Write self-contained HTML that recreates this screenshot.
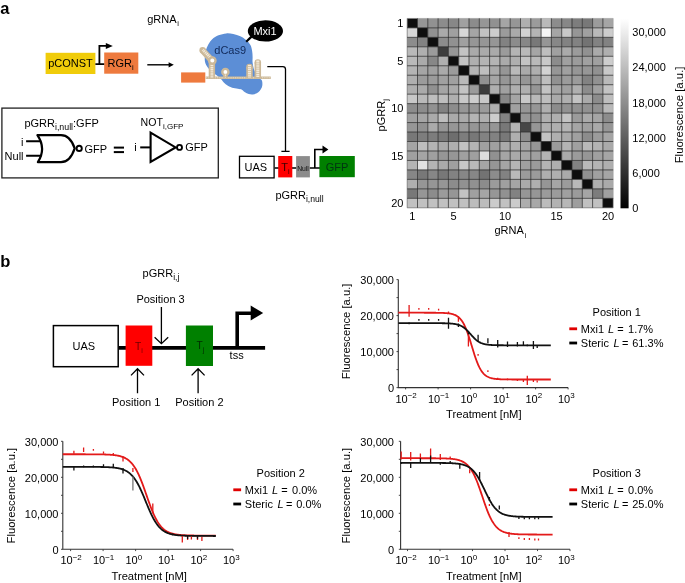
<!DOCTYPE html>
<html><head><meta charset="utf-8"><style>
html,body{margin:0;padding:0;background:#fff;}
svg{display:block;will-change:transform;}
text{font-family:"Liberation Sans", sans-serif;}
</style></head><body>
<svg width="685" height="583" viewBox="0 0 685 583" font-family='"Liberation Sans", sans-serif'>
<rect width="685" height="583" fill="#fff"/>
<text x="0.3" y="13.6" font-size="16.5" text-anchor="start" fill="#000" font-weight="bold" >a</text>
<text x="147.2" y="22.9" font-size="11" text-anchor="start" fill="#000" font-weight="normal" >gRNA<tspan font-size="7.5" dy="3.3" dx="0.6">i</tspan></text>
<rect x="45.6" y="52.8" width="49.8" height="21.2" fill="#f0cc0a"/>
<text x="48.2" y="67.4" font-size="11" text-anchor="start" fill="#000" font-weight="normal" >pCONST</text>
<rect x="104.2" y="52.5" width="34.1" height="21.2" fill="#ee7a3e"/>
<text x="107.6" y="67.4" font-size="11" text-anchor="start" fill="#000" font-weight="normal" >RGR<tspan font-size="7.5" dy="3">i</tspan></text>
<path d="M95.4,64.1 H104.2 M99.4,64.8 V45.9 H106.5" fill="none" stroke="#000" stroke-width="1.8"/>
<polygon points="105.8,43.0 112.8,46.0 105.8,49.0" fill="#000"/>
<path d="M147.3,64.8 H169.5" stroke="#000" stroke-width="1.4"/>
<polygon points="168.6,62.2 173.8,64.8 168.6,67.6" fill="#000"/>
<rect x="181.1" y="72.4" width="24.2" height="10.2" fill="#ee7a3e"/>
<path d="M226.30,33.40 C228.77,33.20 230.97,33.62 233.30,34.10 C235.63,34.58 238.12,35.27 240.30,36.30 C242.48,37.33 244.72,38.83 246.40,40.30 C248.08,41.77 249.45,43.35 250.40,45.10 C251.35,46.85 251.73,48.83 252.10,50.80 C252.47,52.77 252.52,54.95 252.60,56.90 C252.68,58.85 252.33,60.32 252.60,62.50 C252.87,64.68 253.38,67.67 254.20,70.00 C255.02,72.33 256.27,74.82 257.50,76.50 C258.73,78.18 260.78,78.85 261.60,80.10 C262.42,81.35 262.37,82.77 262.40,84.00 C262.43,85.23 262.27,86.33 261.80,87.50 C261.33,88.67 260.43,90.03 259.60,91.00 C258.77,91.97 257.93,92.72 256.80,93.30 C255.67,93.88 254.15,94.37 252.80,94.50 C251.45,94.63 250.00,94.47 248.70,94.10 C247.40,93.73 246.07,93.00 245.00,92.30 C243.93,91.60 243.28,90.45 242.30,89.90 C241.32,89.35 240.57,89.30 239.10,89.00 C237.63,88.70 235.37,88.65 233.50,88.10 C231.63,87.55 229.52,86.63 227.90,85.70 C226.28,84.77 225.03,83.70 223.80,82.50 C222.57,81.30 221.88,79.83 220.50,78.50 C219.12,77.17 217.42,76.08 215.50,74.50 C213.58,72.92 210.70,70.92 209.00,69.00 C207.30,67.08 206.00,65.02 205.30,63.00 C204.60,60.98 204.72,58.98 204.80,56.90 C204.88,54.82 205.22,52.57 205.80,50.50 C206.38,48.43 207.23,46.38 208.30,44.50 C209.37,42.62 210.50,40.73 212.20,39.20 C213.90,37.67 216.15,36.27 218.50,35.30 C220.85,34.33 223.83,33.60 226.30,33.40 Z" fill="#5c8ed6"/>
<text x="214.3" y="53.5" font-size="11" text-anchor="start" fill="#112a5a" font-weight="normal" >dCas9</text>
<path d="M246.2,41.8 L251.5,36.6" stroke="#000" stroke-width="2.2"/>
<ellipse cx="265.4" cy="30.9" rx="17.6" ry="10.6" fill="#000"/>
<text x="265.0" y="34.7" font-size="11" text-anchor="middle" fill="#fff" font-weight="normal" >Mxi1</text>
<path d="M205.6,77.8 H270.8" stroke="#ccb999" stroke-width="2.5"/>
<path d="M206.2,77.8 H270.3" stroke="#f3ebdc" stroke-width="0.8" stroke-dasharray="0.9 0.9"/>
<path d="M211.9,78.5 V60.6 L202.6,50.3" fill="none" stroke="#ccb999" stroke-width="6.4" stroke-linejoin="round"/>
<circle cx="202.6" cy="50.3" r="3.2" fill="#ccb999"/>
<path d="M211.9,77.5 V61.5 M211.4,58.5 L202.8,49.8" fill="none" stroke="#f3ebdc" stroke-width="2.8" stroke-dasharray="1.3 0.6"/>
<circle cx="212.3" cy="60.6" r="3.2" fill="#fff" stroke="#ccb999" stroke-width="2.4"/>
<path d="M225.4,78.5 V72.4" stroke="#ccb999" stroke-width="4.4"/>
<circle cx="225.4" cy="72.0" r="3.1" fill="#fff" stroke="#ccb999" stroke-width="2.4"/>
<path d="M225.4,73.5 V77.5" stroke="#f3ebdc" stroke-width="1.2" stroke-dasharray="0.9 0.9"/>
<path d="M249.5,78.5 V66.9 M257.8,78.5 V62.5" fill="none" stroke="#ccb999" stroke-width="6.5"/>
<circle cx="249.5" cy="66.9" r="3.25" fill="#ccb999"/><circle cx="257.8" cy="62.5" r="3.25" fill="#ccb999"/>
<path d="M249.5,65.0 V77.5 M257.8,60.6 V77.5" fill="none" stroke="#f3ebdc" stroke-width="3.0" stroke-dasharray="1.3 0.6"/>
<path d="M267.3,66.6 H282.8 Q285.5,66.6 285.5,69.3 V151.4 M281.4,151.4 H289.6" fill="none" stroke="#000" stroke-width="1.3"/>
<path d="M274.6,168 H320 M314.8,168.8 V149.5 H323" fill="none" stroke="#000" stroke-width="1.6"/>
<polygon points="322.5,145.6 328.4,149.5 322.5,153.4" fill="#000"/>
<rect x="239.5" y="156.3" width="34.6" height="21.6" fill="#fff" stroke="#000" stroke-width="1.3"/>
<text x="255.9" y="171.4" font-size="11" text-anchor="middle" fill="#000" font-weight="normal" >UAS</text>
<rect x="278.2" y="156" width="14.1" height="21.4" fill="#ff0000"/>
<text x="281.2" y="171.4" font-size="11" text-anchor="start" fill="#3a0000" font-weight="normal" >T<tspan font-size="7" dy="3">i</tspan></text>
<rect x="296.1" y="156.1" width="13.8" height="21.3" fill="#8c8c8c"/>
<text x="303.0" y="170.7" font-size="6.8" text-anchor="middle" fill="#111" font-weight="normal" >Null</text>
<rect x="319.4" y="156.0" width="35.4" height="21.2" fill="#008000"/>
<text x="337.1" y="171.3" font-size="11" text-anchor="middle" fill="#031" font-weight="normal" >GFP</text>
<text x="275.4" y="199" font-size="11" text-anchor="start" fill="#000" font-weight="normal" >pGRR<tspan font-size="8.6" dy="3">i,null</tspan></text>
<rect x="1.9" y="108.1" width="216.4" height="69.8" fill="none" stroke="#222" stroke-width="1.3"/>
<text x="24.4" y="126.9" font-size="11" text-anchor="start" fill="#000" font-weight="normal" >pGRR<tspan font-size="8.8" dy="2.6">i,null</tspan><tspan dy="-2.6">:GFP</tspan></text>
<path d="M37.4,135.2 H61 C68.5,135.2 72.5,142 74.7,148.4 C72.5,155 68.5,162.2 61,162.2 H37.9 Q46.5,148.6 37.4,135.2 Z" fill="none" stroke="#000" stroke-width="2.2" stroke-linejoin="round"/>
<path d="M26.1,141.3 H41.2 M26.1,155.8 H41.2" stroke="#000" stroke-width="2.0"/>
<circle cx="79.2" cy="148.4" r="2.6" fill="none" stroke="#000" stroke-width="1.9"/>
<text x="21.0" y="145.6" font-size="11" text-anchor="start" fill="#000" font-weight="normal" >i</text>
<text x="4.6" y="159.8" font-size="11" text-anchor="start" fill="#000" font-weight="normal" >Null</text>
<text x="84.4" y="152.6" font-size="11" text-anchor="start" fill="#000" font-weight="normal" >GFP</text>
<rect x="113.8" y="146.6" width="10.2" height="2.0" fill="#000"/><rect x="113.8" y="151.1" width="10.2" height="2.0" fill="#000"/>
<text x="134.2" y="150.5" font-size="11" text-anchor="start" fill="#000" font-weight="normal" >i</text>
<path d="M140.2,147.4 H150.6" stroke="#000" stroke-width="2.0"/>
<polygon points="150.6,132.6 175.6,147.4 150.6,162.0" fill="none" stroke="#000" stroke-width="2.1" stroke-linejoin="miter"/>
<circle cx="179.5" cy="147.4" r="2.5" fill="none" stroke="#000" stroke-width="1.9"/>
<text x="185.2" y="150.5" font-size="11" text-anchor="start" fill="#000" font-weight="normal" >GFP</text>
<text x="140.6" y="125.6" font-size="10.6" text-anchor="start" fill="#000" font-weight="normal" >NOT<tspan font-size="8" dy="2.9">i,GFP</tspan></text>
<rect x="407.20" y="18.40" width="10.35" height="9.52" fill="rgb(14,14,14)"/>
<rect x="417.50" y="18.40" width="10.35" height="9.52" fill="rgb(150,150,150)"/>
<rect x="427.80" y="18.40" width="10.35" height="9.52" fill="rgb(145,145,145)"/>
<rect x="438.10" y="18.40" width="10.35" height="9.52" fill="rgb(140,140,140)"/>
<rect x="448.40" y="18.40" width="10.35" height="9.52" fill="rgb(135,135,135)"/>
<rect x="458.70" y="18.40" width="10.35" height="9.52" fill="rgb(160,160,160)"/>
<rect x="469.00" y="18.40" width="10.35" height="9.52" fill="rgb(140,140,140)"/>
<rect x="479.30" y="18.40" width="10.35" height="9.52" fill="rgb(150,150,150)"/>
<rect x="489.60" y="18.40" width="10.35" height="9.52" fill="rgb(145,145,145)"/>
<rect x="499.90" y="18.40" width="10.35" height="9.52" fill="rgb(165,165,165)"/>
<rect x="510.20" y="18.40" width="10.35" height="9.52" fill="rgb(150,150,150)"/>
<rect x="520.50" y="18.40" width="10.35" height="9.52" fill="rgb(175,175,175)"/>
<rect x="530.80" y="18.40" width="10.35" height="9.52" fill="rgb(155,155,155)"/>
<rect x="541.10" y="18.40" width="10.35" height="9.52" fill="rgb(185,185,185)"/>
<rect x="551.40" y="18.40" width="10.35" height="9.52" fill="rgb(140,140,140)"/>
<rect x="561.70" y="18.40" width="10.35" height="9.52" fill="rgb(135,135,135)"/>
<rect x="572.00" y="18.40" width="10.35" height="9.52" fill="rgb(125,125,125)"/>
<rect x="582.30" y="18.40" width="10.35" height="9.52" fill="rgb(120,120,120)"/>
<rect x="592.60" y="18.40" width="10.35" height="9.52" fill="rgb(155,155,155)"/>
<rect x="602.90" y="18.40" width="10.35" height="9.52" fill="rgb(165,165,165)"/>
<rect x="407.20" y="27.87" width="10.35" height="9.52" fill="rgb(215,215,215)"/>
<rect x="417.50" y="27.87" width="10.35" height="9.52" fill="rgb(14,14,14)"/>
<rect x="427.80" y="27.87" width="10.35" height="9.52" fill="rgb(145,145,145)"/>
<rect x="438.10" y="27.87" width="10.35" height="9.52" fill="rgb(170,170,170)"/>
<rect x="448.40" y="27.87" width="10.35" height="9.52" fill="rgb(160,160,160)"/>
<rect x="458.70" y="27.87" width="10.35" height="9.52" fill="rgb(215,215,215)"/>
<rect x="469.00" y="27.87" width="10.35" height="9.52" fill="rgb(165,165,165)"/>
<rect x="479.30" y="27.87" width="10.35" height="9.52" fill="rgb(195,195,195)"/>
<rect x="489.60" y="27.87" width="10.35" height="9.52" fill="rgb(205,205,205)"/>
<rect x="499.90" y="27.87" width="10.35" height="9.52" fill="rgb(155,155,155)"/>
<rect x="510.20" y="27.87" width="10.35" height="9.52" fill="rgb(170,170,170)"/>
<rect x="520.50" y="27.87" width="10.35" height="9.52" fill="rgb(210,210,210)"/>
<rect x="530.80" y="27.87" width="10.35" height="9.52" fill="rgb(180,180,180)"/>
<rect x="541.10" y="27.87" width="10.35" height="9.52" fill="rgb(245,245,245)"/>
<rect x="551.40" y="27.87" width="10.35" height="9.52" fill="rgb(165,165,165)"/>
<rect x="561.70" y="27.87" width="10.35" height="9.52" fill="rgb(200,200,200)"/>
<rect x="572.00" y="27.87" width="10.35" height="9.52" fill="rgb(150,150,150)"/>
<rect x="582.30" y="27.87" width="10.35" height="9.52" fill="rgb(160,160,160)"/>
<rect x="592.60" y="27.87" width="10.35" height="9.52" fill="rgb(185,185,185)"/>
<rect x="602.90" y="27.87" width="10.35" height="9.52" fill="rgb(205,205,205)"/>
<rect x="407.20" y="37.34" width="10.35" height="9.52" fill="rgb(140,140,140)"/>
<rect x="417.50" y="37.34" width="10.35" height="9.52" fill="rgb(130,130,130)"/>
<rect x="427.80" y="37.34" width="10.35" height="9.52" fill="rgb(14,14,14)"/>
<rect x="438.10" y="37.34" width="10.35" height="9.52" fill="rgb(140,140,140)"/>
<rect x="448.40" y="37.34" width="10.35" height="9.52" fill="rgb(145,145,145)"/>
<rect x="458.70" y="37.34" width="10.35" height="9.52" fill="rgb(160,160,160)"/>
<rect x="469.00" y="37.34" width="10.35" height="9.52" fill="rgb(150,150,150)"/>
<rect x="479.30" y="37.34" width="10.35" height="9.52" fill="rgb(150,150,150)"/>
<rect x="489.60" y="37.34" width="10.35" height="9.52" fill="rgb(150,150,150)"/>
<rect x="499.90" y="37.34" width="10.35" height="9.52" fill="rgb(130,130,130)"/>
<rect x="510.20" y="37.34" width="10.35" height="9.52" fill="rgb(140,140,140)"/>
<rect x="520.50" y="37.34" width="10.35" height="9.52" fill="rgb(135,135,135)"/>
<rect x="530.80" y="37.34" width="10.35" height="9.52" fill="rgb(120,120,120)"/>
<rect x="541.10" y="37.34" width="10.35" height="9.52" fill="rgb(150,150,150)"/>
<rect x="551.40" y="37.34" width="10.35" height="9.52" fill="rgb(135,135,135)"/>
<rect x="561.70" y="37.34" width="10.35" height="9.52" fill="rgb(130,130,130)"/>
<rect x="572.00" y="37.34" width="10.35" height="9.52" fill="rgb(130,130,130)"/>
<rect x="582.30" y="37.34" width="10.35" height="9.52" fill="rgb(115,115,115)"/>
<rect x="592.60" y="37.34" width="10.35" height="9.52" fill="rgb(130,130,130)"/>
<rect x="602.90" y="37.34" width="10.35" height="9.52" fill="rgb(130,130,130)"/>
<rect x="407.20" y="46.81" width="10.35" height="9.52" fill="rgb(185,185,185)"/>
<rect x="417.50" y="46.81" width="10.35" height="9.52" fill="rgb(175,175,175)"/>
<rect x="427.80" y="46.81" width="10.35" height="9.52" fill="rgb(155,155,155)"/>
<rect x="438.10" y="46.81" width="10.35" height="9.52" fill="rgb(60,60,60)"/>
<rect x="448.40" y="46.81" width="10.35" height="9.52" fill="rgb(150,150,150)"/>
<rect x="458.70" y="46.81" width="10.35" height="9.52" fill="rgb(195,195,195)"/>
<rect x="469.00" y="46.81" width="10.35" height="9.52" fill="rgb(170,170,170)"/>
<rect x="479.30" y="46.81" width="10.35" height="9.52" fill="rgb(170,170,170)"/>
<rect x="489.60" y="46.81" width="10.35" height="9.52" fill="rgb(170,170,170)"/>
<rect x="499.90" y="46.81" width="10.35" height="9.52" fill="rgb(155,155,155)"/>
<rect x="510.20" y="46.81" width="10.35" height="9.52" fill="rgb(180,180,180)"/>
<rect x="520.50" y="46.81" width="10.35" height="9.52" fill="rgb(185,185,185)"/>
<rect x="530.80" y="46.81" width="10.35" height="9.52" fill="rgb(165,165,165)"/>
<rect x="541.10" y="46.81" width="10.35" height="9.52" fill="rgb(190,190,190)"/>
<rect x="551.40" y="46.81" width="10.35" height="9.52" fill="rgb(160,160,160)"/>
<rect x="561.70" y="46.81" width="10.35" height="9.52" fill="rgb(170,170,170)"/>
<rect x="572.00" y="46.81" width="10.35" height="9.52" fill="rgb(155,155,155)"/>
<rect x="582.30" y="46.81" width="10.35" height="9.52" fill="rgb(145,145,145)"/>
<rect x="592.60" y="46.81" width="10.35" height="9.52" fill="rgb(170,170,170)"/>
<rect x="602.90" y="46.81" width="10.35" height="9.52" fill="rgb(175,175,175)"/>
<rect x="407.20" y="56.28" width="10.35" height="9.52" fill="rgb(185,185,185)"/>
<rect x="417.50" y="56.28" width="10.35" height="9.52" fill="rgb(170,170,170)"/>
<rect x="427.80" y="56.28" width="10.35" height="9.52" fill="rgb(135,135,135)"/>
<rect x="438.10" y="56.28" width="10.35" height="9.52" fill="rgb(175,175,175)"/>
<rect x="448.40" y="56.28" width="10.35" height="9.52" fill="rgb(14,14,14)"/>
<rect x="458.70" y="56.28" width="10.35" height="9.52" fill="rgb(195,195,195)"/>
<rect x="469.00" y="56.28" width="10.35" height="9.52" fill="rgb(175,175,175)"/>
<rect x="479.30" y="56.28" width="10.35" height="9.52" fill="rgb(180,180,180)"/>
<rect x="489.60" y="56.28" width="10.35" height="9.52" fill="rgb(180,180,180)"/>
<rect x="499.90" y="56.28" width="10.35" height="9.52" fill="rgb(170,170,170)"/>
<rect x="510.20" y="56.28" width="10.35" height="9.52" fill="rgb(175,175,175)"/>
<rect x="520.50" y="56.28" width="10.35" height="9.52" fill="rgb(195,195,195)"/>
<rect x="530.80" y="56.28" width="10.35" height="9.52" fill="rgb(185,185,185)"/>
<rect x="541.10" y="56.28" width="10.35" height="9.52" fill="rgb(200,200,200)"/>
<rect x="551.40" y="56.28" width="10.35" height="9.52" fill="rgb(140,140,140)"/>
<rect x="561.70" y="56.28" width="10.35" height="9.52" fill="rgb(160,160,160)"/>
<rect x="572.00" y="56.28" width="10.35" height="9.52" fill="rgb(155,155,155)"/>
<rect x="582.30" y="56.28" width="10.35" height="9.52" fill="rgb(160,160,160)"/>
<rect x="592.60" y="56.28" width="10.35" height="9.52" fill="rgb(160,160,160)"/>
<rect x="602.90" y="56.28" width="10.35" height="9.52" fill="rgb(205,205,205)"/>
<rect x="407.20" y="65.75" width="10.35" height="9.52" fill="rgb(180,180,180)"/>
<rect x="417.50" y="65.75" width="10.35" height="9.52" fill="rgb(165,165,165)"/>
<rect x="427.80" y="65.75" width="10.35" height="9.52" fill="rgb(160,160,160)"/>
<rect x="438.10" y="65.75" width="10.35" height="9.52" fill="rgb(170,170,170)"/>
<rect x="448.40" y="65.75" width="10.35" height="9.52" fill="rgb(155,155,155)"/>
<rect x="458.70" y="65.75" width="10.35" height="9.52" fill="rgb(14,14,14)"/>
<rect x="469.00" y="65.75" width="10.35" height="9.52" fill="rgb(180,180,180)"/>
<rect x="479.30" y="65.75" width="10.35" height="9.52" fill="rgb(190,190,190)"/>
<rect x="489.60" y="65.75" width="10.35" height="9.52" fill="rgb(170,170,170)"/>
<rect x="499.90" y="65.75" width="10.35" height="9.52" fill="rgb(150,150,150)"/>
<rect x="510.20" y="65.75" width="10.35" height="9.52" fill="rgb(185,185,185)"/>
<rect x="520.50" y="65.75" width="10.35" height="9.52" fill="rgb(170,170,170)"/>
<rect x="530.80" y="65.75" width="10.35" height="9.52" fill="rgb(175,175,175)"/>
<rect x="541.10" y="65.75" width="10.35" height="9.52" fill="rgb(210,210,210)"/>
<rect x="551.40" y="65.75" width="10.35" height="9.52" fill="rgb(150,150,150)"/>
<rect x="561.70" y="65.75" width="10.35" height="9.52" fill="rgb(160,160,160)"/>
<rect x="572.00" y="65.75" width="10.35" height="9.52" fill="rgb(150,150,150)"/>
<rect x="582.30" y="65.75" width="10.35" height="9.52" fill="rgb(150,150,150)"/>
<rect x="592.60" y="65.75" width="10.35" height="9.52" fill="rgb(145,145,145)"/>
<rect x="602.90" y="65.75" width="10.35" height="9.52" fill="rgb(200,200,200)"/>
<rect x="407.20" y="75.22" width="10.35" height="9.52" fill="rgb(175,175,175)"/>
<rect x="417.50" y="75.22" width="10.35" height="9.52" fill="rgb(155,155,155)"/>
<rect x="427.80" y="75.22" width="10.35" height="9.52" fill="rgb(155,155,155)"/>
<rect x="438.10" y="75.22" width="10.35" height="9.52" fill="rgb(160,160,160)"/>
<rect x="448.40" y="75.22" width="10.35" height="9.52" fill="rgb(160,160,160)"/>
<rect x="458.70" y="75.22" width="10.35" height="9.52" fill="rgb(185,185,185)"/>
<rect x="469.00" y="75.22" width="10.35" height="9.52" fill="rgb(14,14,14)"/>
<rect x="479.30" y="75.22" width="10.35" height="9.52" fill="rgb(145,145,145)"/>
<rect x="489.60" y="75.22" width="10.35" height="9.52" fill="rgb(165,165,165)"/>
<rect x="499.90" y="75.22" width="10.35" height="9.52" fill="rgb(150,150,150)"/>
<rect x="510.20" y="75.22" width="10.35" height="9.52" fill="rgb(165,165,165)"/>
<rect x="520.50" y="75.22" width="10.35" height="9.52" fill="rgb(150,150,150)"/>
<rect x="530.80" y="75.22" width="10.35" height="9.52" fill="rgb(160,160,160)"/>
<rect x="541.10" y="75.22" width="10.35" height="9.52" fill="rgb(190,190,190)"/>
<rect x="551.40" y="75.22" width="10.35" height="9.52" fill="rgb(145,145,145)"/>
<rect x="561.70" y="75.22" width="10.35" height="9.52" fill="rgb(155,155,155)"/>
<rect x="572.00" y="75.22" width="10.35" height="9.52" fill="rgb(155,155,155)"/>
<rect x="582.30" y="75.22" width="10.35" height="9.52" fill="rgb(130,130,130)"/>
<rect x="592.60" y="75.22" width="10.35" height="9.52" fill="rgb(145,145,145)"/>
<rect x="602.90" y="75.22" width="10.35" height="9.52" fill="rgb(185,185,185)"/>
<rect x="407.20" y="84.69" width="10.35" height="9.52" fill="rgb(175,175,175)"/>
<rect x="417.50" y="84.69" width="10.35" height="9.52" fill="rgb(170,170,170)"/>
<rect x="427.80" y="84.69" width="10.35" height="9.52" fill="rgb(145,145,145)"/>
<rect x="438.10" y="84.69" width="10.35" height="9.52" fill="rgb(165,165,165)"/>
<rect x="448.40" y="84.69" width="10.35" height="9.52" fill="rgb(170,170,170)"/>
<rect x="458.70" y="84.69" width="10.35" height="9.52" fill="rgb(195,195,195)"/>
<rect x="469.00" y="84.69" width="10.35" height="9.52" fill="rgb(155,155,155)"/>
<rect x="479.30" y="84.69" width="10.35" height="9.52" fill="rgb(60,60,60)"/>
<rect x="489.60" y="84.69" width="10.35" height="9.52" fill="rgb(175,175,175)"/>
<rect x="499.90" y="84.69" width="10.35" height="9.52" fill="rgb(160,160,160)"/>
<rect x="510.20" y="84.69" width="10.35" height="9.52" fill="rgb(175,175,175)"/>
<rect x="520.50" y="84.69" width="10.35" height="9.52" fill="rgb(175,175,175)"/>
<rect x="530.80" y="84.69" width="10.35" height="9.52" fill="rgb(150,150,150)"/>
<rect x="541.10" y="84.69" width="10.35" height="9.52" fill="rgb(195,195,195)"/>
<rect x="551.40" y="84.69" width="10.35" height="9.52" fill="rgb(165,165,165)"/>
<rect x="561.70" y="84.69" width="10.35" height="9.52" fill="rgb(160,160,160)"/>
<rect x="572.00" y="84.69" width="10.35" height="9.52" fill="rgb(175,175,175)"/>
<rect x="582.30" y="84.69" width="10.35" height="9.52" fill="rgb(140,140,140)"/>
<rect x="592.60" y="84.69" width="10.35" height="9.52" fill="rgb(160,160,160)"/>
<rect x="602.90" y="84.69" width="10.35" height="9.52" fill="rgb(195,195,195)"/>
<rect x="407.20" y="94.16" width="10.35" height="9.52" fill="rgb(200,200,200)"/>
<rect x="417.50" y="94.16" width="10.35" height="9.52" fill="rgb(185,185,185)"/>
<rect x="427.80" y="94.16" width="10.35" height="9.52" fill="rgb(190,190,190)"/>
<rect x="438.10" y="94.16" width="10.35" height="9.52" fill="rgb(190,190,190)"/>
<rect x="448.40" y="94.16" width="10.35" height="9.52" fill="rgb(175,175,175)"/>
<rect x="458.70" y="94.16" width="10.35" height="9.52" fill="rgb(200,200,200)"/>
<rect x="469.00" y="94.16" width="10.35" height="9.52" fill="rgb(205,205,205)"/>
<rect x="479.30" y="94.16" width="10.35" height="9.52" fill="rgb(200,200,200)"/>
<rect x="489.60" y="94.16" width="10.35" height="9.52" fill="rgb(14,14,14)"/>
<rect x="499.90" y="94.16" width="10.35" height="9.52" fill="rgb(135,135,135)"/>
<rect x="510.20" y="94.16" width="10.35" height="9.52" fill="rgb(165,165,165)"/>
<rect x="520.50" y="94.16" width="10.35" height="9.52" fill="rgb(200,200,200)"/>
<rect x="530.80" y="94.16" width="10.35" height="9.52" fill="rgb(185,185,185)"/>
<rect x="541.10" y="94.16" width="10.35" height="9.52" fill="rgb(190,190,190)"/>
<rect x="551.40" y="94.16" width="10.35" height="9.52" fill="rgb(170,170,170)"/>
<rect x="561.70" y="94.16" width="10.35" height="9.52" fill="rgb(175,175,175)"/>
<rect x="572.00" y="94.16" width="10.35" height="9.52" fill="rgb(195,195,195)"/>
<rect x="582.30" y="94.16" width="10.35" height="9.52" fill="rgb(170,170,170)"/>
<rect x="592.60" y="94.16" width="10.35" height="9.52" fill="rgb(140,140,140)"/>
<rect x="602.90" y="94.16" width="10.35" height="9.52" fill="rgb(190,190,190)"/>
<rect x="407.20" y="103.63" width="10.35" height="9.52" fill="rgb(140,140,140)"/>
<rect x="417.50" y="103.63" width="10.35" height="9.52" fill="rgb(140,140,140)"/>
<rect x="427.80" y="103.63" width="10.35" height="9.52" fill="rgb(145,145,145)"/>
<rect x="438.10" y="103.63" width="10.35" height="9.52" fill="rgb(130,130,130)"/>
<rect x="448.40" y="103.63" width="10.35" height="9.52" fill="rgb(140,140,140)"/>
<rect x="458.70" y="103.63" width="10.35" height="9.52" fill="rgb(150,150,150)"/>
<rect x="469.00" y="103.63" width="10.35" height="9.52" fill="rgb(150,150,150)"/>
<rect x="479.30" y="103.63" width="10.35" height="9.52" fill="rgb(155,155,155)"/>
<rect x="489.60" y="103.63" width="10.35" height="9.52" fill="rgb(175,175,175)"/>
<rect x="499.90" y="103.63" width="10.35" height="9.52" fill="rgb(14,14,14)"/>
<rect x="510.20" y="103.63" width="10.35" height="9.52" fill="rgb(160,160,160)"/>
<rect x="520.50" y="103.63" width="10.35" height="9.52" fill="rgb(150,150,150)"/>
<rect x="530.80" y="103.63" width="10.35" height="9.52" fill="rgb(150,150,150)"/>
<rect x="541.10" y="103.63" width="10.35" height="9.52" fill="rgb(175,175,175)"/>
<rect x="551.40" y="103.63" width="10.35" height="9.52" fill="rgb(140,140,140)"/>
<rect x="561.70" y="103.63" width="10.35" height="9.52" fill="rgb(145,145,145)"/>
<rect x="572.00" y="103.63" width="10.35" height="9.52" fill="rgb(145,145,145)"/>
<rect x="582.30" y="103.63" width="10.35" height="9.52" fill="rgb(145,145,145)"/>
<rect x="592.60" y="103.63" width="10.35" height="9.52" fill="rgb(145,145,145)"/>
<rect x="602.90" y="103.63" width="10.35" height="9.52" fill="rgb(185,185,185)"/>
<rect x="407.20" y="113.10" width="10.35" height="9.52" fill="rgb(160,160,160)"/>
<rect x="417.50" y="113.10" width="10.35" height="9.52" fill="rgb(165,165,165)"/>
<rect x="427.80" y="113.10" width="10.35" height="9.52" fill="rgb(170,170,170)"/>
<rect x="438.10" y="113.10" width="10.35" height="9.52" fill="rgb(190,190,190)"/>
<rect x="448.40" y="113.10" width="10.35" height="9.52" fill="rgb(170,170,170)"/>
<rect x="458.70" y="113.10" width="10.35" height="9.52" fill="rgb(170,170,170)"/>
<rect x="469.00" y="113.10" width="10.35" height="9.52" fill="rgb(180,180,180)"/>
<rect x="479.30" y="113.10" width="10.35" height="9.52" fill="rgb(175,175,175)"/>
<rect x="489.60" y="113.10" width="10.35" height="9.52" fill="rgb(205,205,205)"/>
<rect x="499.90" y="113.10" width="10.35" height="9.52" fill="rgb(130,130,130)"/>
<rect x="510.20" y="113.10" width="10.35" height="9.52" fill="rgb(14,14,14)"/>
<rect x="520.50" y="113.10" width="10.35" height="9.52" fill="rgb(150,150,150)"/>
<rect x="530.80" y="113.10" width="10.35" height="9.52" fill="rgb(145,145,145)"/>
<rect x="541.10" y="113.10" width="10.35" height="9.52" fill="rgb(175,175,175)"/>
<rect x="551.40" y="113.10" width="10.35" height="9.52" fill="rgb(175,175,175)"/>
<rect x="561.70" y="113.10" width="10.35" height="9.52" fill="rgb(195,195,195)"/>
<rect x="572.00" y="113.10" width="10.35" height="9.52" fill="rgb(155,155,155)"/>
<rect x="582.30" y="113.10" width="10.35" height="9.52" fill="rgb(170,170,170)"/>
<rect x="592.60" y="113.10" width="10.35" height="9.52" fill="rgb(165,165,165)"/>
<rect x="602.90" y="113.10" width="10.35" height="9.52" fill="rgb(140,140,140)"/>
<rect x="407.20" y="122.57" width="10.35" height="9.52" fill="rgb(150,150,150)"/>
<rect x="417.50" y="122.57" width="10.35" height="9.52" fill="rgb(145,145,145)"/>
<rect x="427.80" y="122.57" width="10.35" height="9.52" fill="rgb(170,170,170)"/>
<rect x="438.10" y="122.57" width="10.35" height="9.52" fill="rgb(150,150,150)"/>
<rect x="448.40" y="122.57" width="10.35" height="9.52" fill="rgb(150,150,150)"/>
<rect x="458.70" y="122.57" width="10.35" height="9.52" fill="rgb(155,155,155)"/>
<rect x="469.00" y="122.57" width="10.35" height="9.52" fill="rgb(150,150,150)"/>
<rect x="479.30" y="122.57" width="10.35" height="9.52" fill="rgb(150,150,150)"/>
<rect x="489.60" y="122.57" width="10.35" height="9.52" fill="rgb(150,150,150)"/>
<rect x="499.90" y="122.57" width="10.35" height="9.52" fill="rgb(120,120,120)"/>
<rect x="510.20" y="122.57" width="10.35" height="9.52" fill="rgb(180,180,180)"/>
<rect x="520.50" y="122.57" width="10.35" height="9.52" fill="rgb(70,70,70)"/>
<rect x="530.80" y="122.57" width="10.35" height="9.52" fill="rgb(150,150,150)"/>
<rect x="541.10" y="122.57" width="10.35" height="9.52" fill="rgb(175,175,175)"/>
<rect x="551.40" y="122.57" width="10.35" height="9.52" fill="rgb(175,175,175)"/>
<rect x="561.70" y="122.57" width="10.35" height="9.52" fill="rgb(180,180,180)"/>
<rect x="572.00" y="122.57" width="10.35" height="9.52" fill="rgb(165,165,165)"/>
<rect x="582.30" y="122.57" width="10.35" height="9.52" fill="rgb(160,160,160)"/>
<rect x="592.60" y="122.57" width="10.35" height="9.52" fill="rgb(170,170,170)"/>
<rect x="602.90" y="122.57" width="10.35" height="9.52" fill="rgb(150,150,150)"/>
<rect x="407.20" y="132.04" width="10.35" height="9.52" fill="rgb(120,120,120)"/>
<rect x="417.50" y="132.04" width="10.35" height="9.52" fill="rgb(125,125,125)"/>
<rect x="427.80" y="132.04" width="10.35" height="9.52" fill="rgb(125,125,125)"/>
<rect x="438.10" y="132.04" width="10.35" height="9.52" fill="rgb(120,120,120)"/>
<rect x="448.40" y="132.04" width="10.35" height="9.52" fill="rgb(110,110,110)"/>
<rect x="458.70" y="132.04" width="10.35" height="9.52" fill="rgb(125,125,125)"/>
<rect x="469.00" y="132.04" width="10.35" height="9.52" fill="rgb(120,120,120)"/>
<rect x="479.30" y="132.04" width="10.35" height="9.52" fill="rgb(130,130,130)"/>
<rect x="489.60" y="132.04" width="10.35" height="9.52" fill="rgb(130,130,130)"/>
<rect x="499.90" y="132.04" width="10.35" height="9.52" fill="rgb(120,120,120)"/>
<rect x="510.20" y="132.04" width="10.35" height="9.52" fill="rgb(175,175,175)"/>
<rect x="520.50" y="132.04" width="10.35" height="9.52" fill="rgb(140,140,140)"/>
<rect x="530.80" y="132.04" width="10.35" height="9.52" fill="rgb(14,14,14)"/>
<rect x="541.10" y="132.04" width="10.35" height="9.52" fill="rgb(195,195,195)"/>
<rect x="551.40" y="132.04" width="10.35" height="9.52" fill="rgb(175,175,175)"/>
<rect x="561.70" y="132.04" width="10.35" height="9.52" fill="rgb(170,170,170)"/>
<rect x="572.00" y="132.04" width="10.35" height="9.52" fill="rgb(160,160,160)"/>
<rect x="582.30" y="132.04" width="10.35" height="9.52" fill="rgb(140,140,140)"/>
<rect x="592.60" y="132.04" width="10.35" height="9.52" fill="rgb(155,155,155)"/>
<rect x="602.90" y="132.04" width="10.35" height="9.52" fill="rgb(165,165,165)"/>
<rect x="407.20" y="141.51" width="10.35" height="9.52" fill="rgb(165,165,165)"/>
<rect x="417.50" y="141.51" width="10.35" height="9.52" fill="rgb(190,190,190)"/>
<rect x="427.80" y="141.51" width="10.35" height="9.52" fill="rgb(180,180,180)"/>
<rect x="438.10" y="141.51" width="10.35" height="9.52" fill="rgb(170,170,170)"/>
<rect x="448.40" y="141.51" width="10.35" height="9.52" fill="rgb(175,175,175)"/>
<rect x="458.70" y="141.51" width="10.35" height="9.52" fill="rgb(195,195,195)"/>
<rect x="469.00" y="141.51" width="10.35" height="9.52" fill="rgb(180,180,180)"/>
<rect x="479.30" y="141.51" width="10.35" height="9.52" fill="rgb(160,160,160)"/>
<rect x="489.60" y="141.51" width="10.35" height="9.52" fill="rgb(160,160,160)"/>
<rect x="499.90" y="141.51" width="10.35" height="9.52" fill="rgb(170,170,170)"/>
<rect x="510.20" y="141.51" width="10.35" height="9.52" fill="rgb(175,175,175)"/>
<rect x="520.50" y="141.51" width="10.35" height="9.52" fill="rgb(165,165,165)"/>
<rect x="530.80" y="141.51" width="10.35" height="9.52" fill="rgb(150,150,150)"/>
<rect x="541.10" y="141.51" width="10.35" height="9.52" fill="rgb(14,14,14)"/>
<rect x="551.40" y="141.51" width="10.35" height="9.52" fill="rgb(155,155,155)"/>
<rect x="561.70" y="141.51" width="10.35" height="9.52" fill="rgb(180,180,180)"/>
<rect x="572.00" y="141.51" width="10.35" height="9.52" fill="rgb(160,160,160)"/>
<rect x="582.30" y="141.51" width="10.35" height="9.52" fill="rgb(185,185,185)"/>
<rect x="592.60" y="141.51" width="10.35" height="9.52" fill="rgb(180,180,180)"/>
<rect x="602.90" y="141.51" width="10.35" height="9.52" fill="rgb(170,170,170)"/>
<rect x="407.20" y="150.98" width="10.35" height="9.52" fill="rgb(160,160,160)"/>
<rect x="417.50" y="150.98" width="10.35" height="9.52" fill="rgb(165,165,165)"/>
<rect x="427.80" y="150.98" width="10.35" height="9.52" fill="rgb(160,160,160)"/>
<rect x="438.10" y="150.98" width="10.35" height="9.52" fill="rgb(150,150,150)"/>
<rect x="448.40" y="150.98" width="10.35" height="9.52" fill="rgb(150,150,150)"/>
<rect x="458.70" y="150.98" width="10.35" height="9.52" fill="rgb(160,160,160)"/>
<rect x="469.00" y="150.98" width="10.35" height="9.52" fill="rgb(160,160,160)"/>
<rect x="479.30" y="150.98" width="10.35" height="9.52" fill="rgb(220,220,220)"/>
<rect x="489.60" y="150.98" width="10.35" height="9.52" fill="rgb(145,145,145)"/>
<rect x="499.90" y="150.98" width="10.35" height="9.52" fill="rgb(165,165,165)"/>
<rect x="510.20" y="150.98" width="10.35" height="9.52" fill="rgb(170,170,170)"/>
<rect x="520.50" y="150.98" width="10.35" height="9.52" fill="rgb(165,165,165)"/>
<rect x="530.80" y="150.98" width="10.35" height="9.52" fill="rgb(160,160,160)"/>
<rect x="541.10" y="150.98" width="10.35" height="9.52" fill="rgb(180,180,180)"/>
<rect x="551.40" y="150.98" width="10.35" height="9.52" fill="rgb(14,14,14)"/>
<rect x="561.70" y="150.98" width="10.35" height="9.52" fill="rgb(170,170,170)"/>
<rect x="572.00" y="150.98" width="10.35" height="9.52" fill="rgb(155,155,155)"/>
<rect x="582.30" y="150.98" width="10.35" height="9.52" fill="rgb(150,150,150)"/>
<rect x="592.60" y="150.98" width="10.35" height="9.52" fill="rgb(160,160,160)"/>
<rect x="602.90" y="150.98" width="10.35" height="9.52" fill="rgb(165,165,165)"/>
<rect x="407.20" y="160.45" width="10.35" height="9.52" fill="rgb(180,180,180)"/>
<rect x="417.50" y="160.45" width="10.35" height="9.52" fill="rgb(225,225,225)"/>
<rect x="427.80" y="160.45" width="10.35" height="9.52" fill="rgb(180,180,180)"/>
<rect x="438.10" y="160.45" width="10.35" height="9.52" fill="rgb(170,170,170)"/>
<rect x="448.40" y="160.45" width="10.35" height="9.52" fill="rgb(160,160,160)"/>
<rect x="458.70" y="160.45" width="10.35" height="9.52" fill="rgb(200,200,200)"/>
<rect x="469.00" y="160.45" width="10.35" height="9.52" fill="rgb(185,185,185)"/>
<rect x="479.30" y="160.45" width="10.35" height="9.52" fill="rgb(165,165,165)"/>
<rect x="489.60" y="160.45" width="10.35" height="9.52" fill="rgb(150,150,150)"/>
<rect x="499.90" y="160.45" width="10.35" height="9.52" fill="rgb(165,165,165)"/>
<rect x="510.20" y="160.45" width="10.35" height="9.52" fill="rgb(180,180,180)"/>
<rect x="520.50" y="160.45" width="10.35" height="9.52" fill="rgb(160,160,160)"/>
<rect x="530.80" y="160.45" width="10.35" height="9.52" fill="rgb(155,155,155)"/>
<rect x="541.10" y="160.45" width="10.35" height="9.52" fill="rgb(180,180,180)"/>
<rect x="551.40" y="160.45" width="10.35" height="9.52" fill="rgb(175,175,175)"/>
<rect x="561.70" y="160.45" width="10.35" height="9.52" fill="rgb(14,14,14)"/>
<rect x="572.00" y="160.45" width="10.35" height="9.52" fill="rgb(130,130,130)"/>
<rect x="582.30" y="160.45" width="10.35" height="9.52" fill="rgb(185,185,185)"/>
<rect x="592.60" y="160.45" width="10.35" height="9.52" fill="rgb(180,180,180)"/>
<rect x="602.90" y="160.45" width="10.35" height="9.52" fill="rgb(175,175,175)"/>
<rect x="407.20" y="169.92" width="10.35" height="9.52" fill="rgb(135,135,135)"/>
<rect x="417.50" y="169.92" width="10.35" height="9.52" fill="rgb(120,120,120)"/>
<rect x="427.80" y="169.92" width="10.35" height="9.52" fill="rgb(135,135,135)"/>
<rect x="438.10" y="169.92" width="10.35" height="9.52" fill="rgb(120,120,120)"/>
<rect x="448.40" y="169.92" width="10.35" height="9.52" fill="rgb(130,130,130)"/>
<rect x="458.70" y="169.92" width="10.35" height="9.52" fill="rgb(135,135,135)"/>
<rect x="469.00" y="169.92" width="10.35" height="9.52" fill="rgb(135,135,135)"/>
<rect x="479.30" y="169.92" width="10.35" height="9.52" fill="rgb(115,115,115)"/>
<rect x="489.60" y="169.92" width="10.35" height="9.52" fill="rgb(140,140,140)"/>
<rect x="499.90" y="169.92" width="10.35" height="9.52" fill="rgb(130,130,130)"/>
<rect x="510.20" y="169.92" width="10.35" height="9.52" fill="rgb(185,185,185)"/>
<rect x="520.50" y="169.92" width="10.35" height="9.52" fill="rgb(155,155,155)"/>
<rect x="530.80" y="169.92" width="10.35" height="9.52" fill="rgb(155,155,155)"/>
<rect x="541.10" y="169.92" width="10.35" height="9.52" fill="rgb(175,175,175)"/>
<rect x="551.40" y="169.92" width="10.35" height="9.52" fill="rgb(175,175,175)"/>
<rect x="561.70" y="169.92" width="10.35" height="9.52" fill="rgb(170,170,170)"/>
<rect x="572.00" y="169.92" width="10.35" height="9.52" fill="rgb(14,14,14)"/>
<rect x="582.30" y="169.92" width="10.35" height="9.52" fill="rgb(145,145,145)"/>
<rect x="592.60" y="169.92" width="10.35" height="9.52" fill="rgb(160,160,160)"/>
<rect x="602.90" y="169.92" width="10.35" height="9.52" fill="rgb(165,165,165)"/>
<rect x="407.20" y="179.39" width="10.35" height="9.52" fill="rgb(175,175,175)"/>
<rect x="417.50" y="179.39" width="10.35" height="9.52" fill="rgb(150,150,150)"/>
<rect x="427.80" y="179.39" width="10.35" height="9.52" fill="rgb(150,150,150)"/>
<rect x="438.10" y="179.39" width="10.35" height="9.52" fill="rgb(150,150,150)"/>
<rect x="448.40" y="179.39" width="10.35" height="9.52" fill="rgb(140,140,140)"/>
<rect x="458.70" y="179.39" width="10.35" height="9.52" fill="rgb(145,145,145)"/>
<rect x="469.00" y="179.39" width="10.35" height="9.52" fill="rgb(145,145,145)"/>
<rect x="479.30" y="179.39" width="10.35" height="9.52" fill="rgb(140,140,140)"/>
<rect x="489.60" y="179.39" width="10.35" height="9.52" fill="rgb(155,155,155)"/>
<rect x="499.90" y="179.39" width="10.35" height="9.52" fill="rgb(160,160,160)"/>
<rect x="510.20" y="179.39" width="10.35" height="9.52" fill="rgb(165,165,165)"/>
<rect x="520.50" y="179.39" width="10.35" height="9.52" fill="rgb(170,170,170)"/>
<rect x="530.80" y="179.39" width="10.35" height="9.52" fill="rgb(175,175,175)"/>
<rect x="541.10" y="179.39" width="10.35" height="9.52" fill="rgb(150,150,150)"/>
<rect x="551.40" y="179.39" width="10.35" height="9.52" fill="rgb(165,165,165)"/>
<rect x="561.70" y="179.39" width="10.35" height="9.52" fill="rgb(155,155,155)"/>
<rect x="572.00" y="179.39" width="10.35" height="9.52" fill="rgb(185,185,185)"/>
<rect x="582.30" y="179.39" width="10.35" height="9.52" fill="rgb(14,14,14)"/>
<rect x="592.60" y="179.39" width="10.35" height="9.52" fill="rgb(175,175,175)"/>
<rect x="602.90" y="179.39" width="10.35" height="9.52" fill="rgb(170,170,170)"/>
<rect x="407.20" y="188.86" width="10.35" height="9.52" fill="rgb(120,120,120)"/>
<rect x="417.50" y="188.86" width="10.35" height="9.52" fill="rgb(150,150,150)"/>
<rect x="427.80" y="188.86" width="10.35" height="9.52" fill="rgb(140,140,140)"/>
<rect x="438.10" y="188.86" width="10.35" height="9.52" fill="rgb(155,155,155)"/>
<rect x="448.40" y="188.86" width="10.35" height="9.52" fill="rgb(150,150,150)"/>
<rect x="458.70" y="188.86" width="10.35" height="9.52" fill="rgb(195,195,195)"/>
<rect x="469.00" y="188.86" width="10.35" height="9.52" fill="rgb(160,160,160)"/>
<rect x="479.30" y="188.86" width="10.35" height="9.52" fill="rgb(165,165,165)"/>
<rect x="489.60" y="188.86" width="10.35" height="9.52" fill="rgb(150,150,150)"/>
<rect x="499.90" y="188.86" width="10.35" height="9.52" fill="rgb(145,145,145)"/>
<rect x="510.20" y="188.86" width="10.35" height="9.52" fill="rgb(130,130,130)"/>
<rect x="520.50" y="188.86" width="10.35" height="9.52" fill="rgb(150,150,150)"/>
<rect x="530.80" y="188.86" width="10.35" height="9.52" fill="rgb(150,150,150)"/>
<rect x="541.10" y="188.86" width="10.35" height="9.52" fill="rgb(155,155,155)"/>
<rect x="551.40" y="188.86" width="10.35" height="9.52" fill="rgb(155,155,155)"/>
<rect x="561.70" y="188.86" width="10.35" height="9.52" fill="rgb(160,160,160)"/>
<rect x="572.00" y="188.86" width="10.35" height="9.52" fill="rgb(155,155,155)"/>
<rect x="582.30" y="188.86" width="10.35" height="9.52" fill="rgb(165,165,165)"/>
<rect x="592.60" y="188.86" width="10.35" height="9.52" fill="rgb(125,125,125)"/>
<rect x="602.90" y="188.86" width="10.35" height="9.52" fill="rgb(160,160,160)"/>
<rect x="407.20" y="198.33" width="10.35" height="9.52" fill="rgb(193,193,193)"/>
<rect x="417.50" y="198.33" width="10.35" height="9.52" fill="rgb(193,193,193)"/>
<rect x="427.80" y="198.33" width="10.35" height="9.52" fill="rgb(193,193,193)"/>
<rect x="438.10" y="198.33" width="10.35" height="9.52" fill="rgb(193,193,193)"/>
<rect x="448.40" y="198.33" width="10.35" height="9.52" fill="rgb(193,193,193)"/>
<rect x="458.70" y="198.33" width="10.35" height="9.52" fill="rgb(193,193,193)"/>
<rect x="469.00" y="198.33" width="10.35" height="9.52" fill="rgb(188,188,188)"/>
<rect x="479.30" y="198.33" width="10.35" height="9.52" fill="rgb(188,188,188)"/>
<rect x="489.60" y="198.33" width="10.35" height="9.52" fill="rgb(203,203,203)"/>
<rect x="499.90" y="198.33" width="10.35" height="9.52" fill="rgb(193,193,193)"/>
<rect x="510.20" y="198.33" width="10.35" height="9.52" fill="rgb(203,203,203)"/>
<rect x="520.50" y="198.33" width="10.35" height="9.52" fill="rgb(173,173,173)"/>
<rect x="530.80" y="198.33" width="10.35" height="9.52" fill="rgb(168,168,168)"/>
<rect x="541.10" y="198.33" width="10.35" height="9.52" fill="rgb(188,188,188)"/>
<rect x="551.40" y="198.33" width="10.35" height="9.52" fill="rgb(178,178,178)"/>
<rect x="561.70" y="198.33" width="10.35" height="9.52" fill="rgb(183,183,183)"/>
<rect x="572.00" y="198.33" width="10.35" height="9.52" fill="rgb(158,158,158)"/>
<rect x="582.30" y="198.33" width="10.35" height="9.52" fill="rgb(193,193,193)"/>
<rect x="592.60" y="198.33" width="10.35" height="9.52" fill="rgb(193,193,193)"/>
<rect x="602.90" y="198.33" width="10.35" height="9.52" fill="rgb(14,14,14)"/>
<path d="M407.2,18.4 V207.8 H613.2" stroke="#6a6a6a" stroke-width="0.7" fill="none"/>
<path d="M407.2,18.4 H613.2 V207.8" stroke="#9a9a9a" stroke-width="0.5" fill="none"/>
<path d="M417.50,18.4 V207.8 M407.2,27.87 H613.2 M427.80,18.4 V207.8 M407.2,37.34 H613.2 M438.10,18.4 V207.8 M407.2,46.81 H613.2 M448.40,18.4 V207.8 M407.2,56.28 H613.2 M458.70,18.4 V207.8 M407.2,65.75 H613.2 M469.00,18.4 V207.8 M407.2,75.22 H613.2 M479.30,18.4 V207.8 M407.2,84.69 H613.2 M489.60,18.4 V207.8 M407.2,94.16 H613.2 M499.90,18.4 V207.8 M407.2,103.63 H613.2 M510.20,18.4 V207.8 M407.2,113.10 H613.2 M520.50,18.4 V207.8 M407.2,122.57 H613.2 M530.80,18.4 V207.8 M407.2,132.04 H613.2 M541.10,18.4 V207.8 M407.2,141.51 H613.2 M551.40,18.4 V207.8 M407.2,150.98 H613.2 M561.70,18.4 V207.8 M407.2,160.45 H613.2 M572.00,18.4 V207.8 M407.2,169.92 H613.2 M582.30,18.4 V207.8 M407.2,179.39 H613.2 M592.60,18.4 V207.8 M407.2,188.86 H613.2 M602.90,18.4 V207.8 M407.2,198.33 H613.2" stroke="#2a2a2a" stroke-width="0.75" fill="none"/>
<text x="403.4" y="27.034999999999997" font-size="11" text-anchor="end" fill="#000" font-weight="normal" >1</text>
<text x="403.4" y="64.915" font-size="11" text-anchor="end" fill="#000" font-weight="normal" >5</text>
<text x="403.4" y="112.26500000000001" font-size="11" text-anchor="end" fill="#000" font-weight="normal" >10</text>
<text x="403.4" y="159.615" font-size="11" text-anchor="end" fill="#000" font-weight="normal" >15</text>
<text x="403.4" y="206.96500000000003" font-size="11" text-anchor="end" fill="#000" font-weight="normal" >20</text>
<text x="412.34999999999997" y="219.6" font-size="11" text-anchor="middle" fill="#000" font-weight="normal" >1</text>
<text x="453.55" y="219.6" font-size="11" text-anchor="middle" fill="#000" font-weight="normal" >5</text>
<text x="505.05" y="219.6" font-size="11" text-anchor="middle" fill="#000" font-weight="normal" >10</text>
<text x="556.55" y="219.6" font-size="11" text-anchor="middle" fill="#000" font-weight="normal" >15</text>
<text x="608.0500000000001" y="219.6" font-size="11" text-anchor="middle" fill="#000" font-weight="normal" >20</text>
<text x="494.4" y="234.3" font-size="11" text-anchor="start" fill="#000" font-weight="normal" >gRNA<tspan font-size="7.5" dy="3.3" dx="0.8">i</tspan></text>
<text transform="translate(384.7,115.3) rotate(-90)" font-size="11" text-anchor="middle">pGRR<tspan font-size="7.5" dy="3">j</tspan></text>
<defs><linearGradient id="cb" x1="0" y1="0" x2="0" y2="1"><stop offset="0" stop-color="#fff"/><stop offset="1" stop-color="#000"/></linearGradient></defs>
<rect x="620.5" y="18.4" width="8.1" height="189.9" fill="url(#cb)"/>
<text x="632.3" y="212.20000000000002" font-size="11" text-anchor="start" fill="#000" font-weight="normal" >0</text>
<text x="632.3" y="177.00000000000003" font-size="11" text-anchor="start" fill="#000" font-weight="normal" >6,000</text>
<text x="632.3" y="141.8" font-size="11" text-anchor="start" fill="#000" font-weight="normal" >12,000</text>
<text x="632.3" y="106.60000000000001" font-size="11" text-anchor="start" fill="#000" font-weight="normal" >18,000</text>
<text x="632.3" y="71.4" font-size="11" text-anchor="start" fill="#000" font-weight="normal" >24,000</text>
<text x="632.3" y="36.20000000000001" font-size="11" text-anchor="start" fill="#000" font-weight="normal" >30,000</text>
<text transform="translate(682.7,114.9) rotate(-90)" font-size="11.4" text-anchor="middle">Fluorescence [a.u.]</text>
<text x="0.3" y="266.8" font-size="16.5" text-anchor="start" fill="#000" font-weight="bold" >b</text>
<text x="142.6" y="276.8" font-size="11" text-anchor="start" fill="#000" font-weight="normal" >pGRR<tspan font-size="8.6" dy="3">i,j</tspan></text>
<text x="136.4" y="303.3" font-size="11" text-anchor="start" fill="#000" font-weight="normal" >Position 3</text>
<path d="M118.8,347.8 H265.1" stroke="#000" stroke-width="3.8"/>
<rect x="53.4" y="325.6" width="64.8" height="41.1" fill="#fff" stroke="#000" stroke-width="1.5"/>
<text x="83.9" y="349.7" font-size="11" text-anchor="middle" fill="#000" font-weight="normal" >UAS</text>
<rect x="125.6" y="325.5" width="26.7" height="40.3" fill="#ff0000"/>
<text x="135.0" y="349.6" font-size="10.2" text-anchor="start" fill="#6a0000" font-weight="normal" >T<tspan font-size="7" dy="3">i</tspan></text>
<rect x="185.9" y="325.5" width="27.1" height="40.5" fill="#008000"/>
<text x="196.6" y="349.3" font-size="10.2" text-anchor="start" fill="#002a00" font-weight="normal" >T<tspan font-size="7" dy="3">j</tspan></text>
<path d="M237.2,349 V313.2 H251.5" fill="none" stroke="#000" stroke-width="3.6"/>
<polygon points="250.7,305.6 263.2,313.1 250.7,320.5" fill="#000"/>
<text x="229.6" y="359.2" font-size="11" text-anchor="start" fill="#000" font-weight="normal" >tss</text>
<path d="M161.4,307.1 V343.3 M154.6,337.2 L161.4,343.6 L168.2,337.2" fill="none" stroke="#000" stroke-width="1.3"/>
<path d="M137.5,393.3 V369 M131,375.4 L137.5,368.8 L144,375.4" fill="none" stroke="#000" stroke-width="1.3"/>
<path d="M198.1,393.3 V369 M191.6,375.4 L198.1,368.8 L204.6,375.4" fill="none" stroke="#000" stroke-width="1.3"/>
<text x="112.0" y="406.4" font-size="11" text-anchor="start" fill="#000" font-weight="normal" >Position 1</text>
<text x="175.2" y="406.4" font-size="11" text-anchor="start" fill="#000" font-weight="normal" >Position 2</text>
<path d="M398.3,279.5 V387.6 H568.1" fill="none" stroke="#333" stroke-width="1.1"/>
<path d="M396.5,387.60 H398.3 M396.5,369.60 H398.3 M396.5,351.60 H398.3 M396.5,333.60 H398.3 M396.5,315.60 H398.3 M396.5,297.60 H398.3 M396.5,279.60 H398.3 M405.60,387.6 V389.40000000000003 M438.10,387.6 V389.40000000000003 M470.60,387.6 V389.40000000000003 M503.10,387.6 V389.40000000000003 M535.60,387.6 V389.40000000000003 M568.10,387.6 V389.40000000000003" stroke="#333" stroke-width="0.9"/>
<text x="394.0" y="392.0" font-size="11" text-anchor="end" fill="#000" font-weight="normal" >0</text>
<text x="394.0" y="356.0" font-size="11" text-anchor="end" fill="#000" font-weight="normal" >10,000</text>
<text x="394.0" y="320.0" font-size="11" text-anchor="end" fill="#000" font-weight="normal" >20,000</text>
<text x="394.0" y="284.0" font-size="11" text-anchor="end" fill="#000" font-weight="normal" >30,000</text>
<text x="395.40" y="402.60" font-size="11">10<tspan font-size="8" dy="-4.2">&#8722;2</tspan></text>
<text x="427.90" y="402.60" font-size="11">10<tspan font-size="8" dy="-4.2">&#8722;1</tspan></text>
<text x="460.40" y="402.60" font-size="11">10<tspan font-size="8" dy="-4.2">0</tspan></text>
<text x="492.90" y="402.60" font-size="11">10<tspan font-size="8" dy="-4.2">1</tspan></text>
<text x="525.40" y="402.60" font-size="11">10<tspan font-size="8" dy="-4.2">2</tspan></text>
<text x="557.90" y="402.60" font-size="11">10<tspan font-size="8" dy="-4.2">3</tspan></text>
<text transform="translate(350.20,331.40) rotate(-90)" font-size="11.25" text-anchor="middle">Fluorescence [a.u.]</text>
<text x="446.1" y="418.0" font-size="11.2" text-anchor="start" fill="#000" font-weight="normal" >Treatment [nM]</text>
<polyline points="398.30,312.72 398.80,312.72 399.30,312.72 399.80,312.72 400.30,312.72 400.80,312.72 401.30,312.72 401.80,312.72 402.30,312.72 402.80,312.72 403.30,312.72 403.80,312.72 404.30,312.72 404.80,312.72 405.30,312.72 405.80,312.72 406.30,312.72 406.80,312.72 407.30,312.72 407.80,312.72 408.30,312.72 408.80,312.72 409.30,312.72 409.80,312.72 410.30,312.72 410.80,312.72 411.30,312.72 411.80,312.72 412.30,312.72 412.80,312.72 413.30,312.72 413.80,312.72 414.30,312.72 414.80,312.72 415.30,312.72 415.80,312.72 416.30,312.72 416.80,312.72 417.30,312.72 417.80,312.72 418.30,312.72 418.80,312.72 419.30,312.72 419.80,312.72 420.30,312.72 420.80,312.72 421.30,312.72 421.80,312.72 422.30,312.72 422.80,312.72 423.30,312.72 423.80,312.72 424.30,312.73 424.80,312.73 425.30,312.73 425.80,312.73 426.30,312.73 426.80,312.73 427.30,312.73 427.80,312.73 428.30,312.73 428.80,312.73 429.30,312.73 429.80,312.74 430.30,312.74 430.80,312.74 431.30,312.74 431.80,312.74 432.30,312.75 432.80,312.75 433.30,312.75 433.80,312.76 434.30,312.76 434.80,312.76 435.30,312.77 435.80,312.77 436.30,312.78 436.80,312.78 437.30,312.79 437.80,312.80 438.30,312.81 438.80,312.82 439.30,312.83 439.80,312.84 440.30,312.85 440.80,312.86 441.30,312.88 441.80,312.89 442.30,312.91 442.80,312.93 443.30,312.95 443.80,312.98 444.30,313.00 444.80,313.03 445.30,313.07 445.80,313.10 446.30,313.14 446.80,313.18 447.30,313.23 447.80,313.28 448.30,313.34 448.80,313.41 449.30,313.48 449.80,313.56 450.30,313.64 450.80,313.74 451.30,313.84 451.80,313.96 452.30,314.08 452.80,314.22 453.30,314.37 453.80,314.54 454.30,314.73 454.80,314.93 455.30,315.15 455.80,315.39 456.30,315.66 456.80,315.95 457.30,316.27 457.80,316.62 458.30,317.00 458.80,317.41 459.30,317.87 459.80,318.36 460.30,318.89 460.80,319.47 461.30,320.10 461.80,320.77 462.30,321.50 462.80,322.29 463.30,323.13 463.80,324.03 464.30,324.99 464.80,326.02 465.30,327.10 465.80,328.26 466.30,329.47 466.80,330.74 467.30,332.08 467.80,333.47 468.30,334.91 468.80,336.41 469.30,337.94 469.80,339.52 470.30,341.13 470.80,342.76 471.30,344.40 471.80,346.06 472.30,347.71 472.80,349.36 473.30,350.99 473.80,352.60 474.30,354.17 474.80,355.71 475.30,357.21 475.80,358.66 476.30,360.05 476.80,361.39 477.30,362.67 477.80,363.89 478.30,365.04 478.80,366.13 479.30,367.16 479.80,368.13 480.30,369.04 480.80,369.88 481.30,370.67 481.80,371.40 482.30,372.08 482.80,372.71 483.30,373.29 483.80,373.83 484.30,374.32 484.80,374.78 485.30,375.19 485.80,375.58 486.30,375.93 486.80,376.25 487.30,376.54 487.80,376.81 488.30,377.05 488.80,377.28 489.30,377.48 489.80,377.67 490.30,377.84 490.80,377.99 491.30,378.13 491.80,378.26 492.30,378.37 492.80,378.48 493.30,378.57 493.80,378.66 494.30,378.74 494.80,378.81 495.30,378.87 495.80,378.93 496.30,378.98 496.80,379.03 497.30,379.08 497.80,379.12 498.30,379.15 498.80,379.19 499.30,379.21 499.80,379.24 500.30,379.27 500.80,379.29 501.30,379.31 501.80,379.33 502.30,379.34 502.80,379.36 503.30,379.37 503.80,379.38 504.30,379.39 504.80,379.40 505.30,379.41 505.80,379.42 506.30,379.43 506.80,379.44 507.30,379.44 507.80,379.45 508.30,379.45 508.80,379.46 509.30,379.46 509.80,379.46 510.30,379.47 510.80,379.47 511.30,379.47 511.80,379.48 512.30,379.48 512.80,379.48 513.30,379.48 513.80,379.48 514.30,379.49 514.80,379.49 515.30,379.49 515.80,379.49 516.30,379.49 516.80,379.49 517.30,379.49 517.80,379.49 518.30,379.49 518.80,379.49 519.30,379.49 519.80,379.50 520.30,379.50 520.80,379.50 521.30,379.50 521.80,379.50 522.30,379.50 522.80,379.50 523.30,379.50 523.80,379.50 524.30,379.50 524.80,379.50 525.30,379.50 525.80,379.50 526.30,379.50 526.80,379.50 527.30,379.50 527.80,379.50 528.30,379.50 528.80,379.50 529.30,379.50 529.80,379.50 530.30,379.50 530.80,379.50 531.30,379.50 531.80,379.50 532.30,379.50 532.80,379.50 533.30,379.50 533.80,379.50 534.30,379.50 534.80,379.50 535.30,379.50 535.80,379.50 536.30,379.50 536.80,379.50 537.30,379.50 537.80,379.50 538.30,379.50 538.80,379.50 539.30,379.50 539.80,379.50 540.30,379.50 540.80,379.50 541.30,379.50 541.80,379.50 542.30,379.50 542.80,379.50 543.30,379.50 543.80,379.50 544.30,379.50 544.80,379.50 545.30,379.50 545.80,379.50 546.30,379.50 546.80,379.50 547.30,379.50 547.80,379.50 548.30,379.50 548.80,379.50 549.30,379.50 549.80,379.50 550.30,379.50 550.80,379.50" fill="none" stroke="#e31a1a" stroke-width="1.8"/>
<polyline points="398.30,323.16 398.80,323.16 399.30,323.16 399.80,323.16 400.30,323.16 400.80,323.16 401.30,323.16 401.80,323.16 402.30,323.16 402.80,323.16 403.30,323.16 403.80,323.16 404.30,323.16 404.80,323.16 405.30,323.16 405.80,323.16 406.30,323.16 406.80,323.16 407.30,323.16 407.80,323.16 408.30,323.16 408.80,323.16 409.30,323.16 409.80,323.16 410.30,323.16 410.80,323.16 411.30,323.16 411.80,323.16 412.30,323.16 412.80,323.16 413.30,323.16 413.80,323.16 414.30,323.16 414.80,323.16 415.30,323.16 415.80,323.16 416.30,323.16 416.80,323.16 417.30,323.16 417.80,323.16 418.30,323.16 418.80,323.16 419.30,323.16 419.80,323.16 420.30,323.16 420.80,323.16 421.30,323.16 421.80,323.16 422.30,323.16 422.80,323.16 423.30,323.16 423.80,323.16 424.30,323.16 424.80,323.16 425.30,323.16 425.80,323.16 426.30,323.16 426.80,323.16 427.30,323.16 427.80,323.16 428.30,323.16 428.80,323.16 429.30,323.16 429.80,323.17 430.30,323.17 430.80,323.17 431.30,323.17 431.80,323.17 432.30,323.17 432.80,323.17 433.30,323.17 433.80,323.17 434.30,323.17 434.80,323.17 435.30,323.18 435.80,323.18 436.30,323.18 436.80,323.18 437.30,323.18 437.80,323.19 438.30,323.19 438.80,323.19 439.30,323.20 439.80,323.20 440.30,323.20 440.80,323.21 441.30,323.21 441.80,323.22 442.30,323.23 442.80,323.23 443.30,323.24 443.80,323.25 444.30,323.26 444.80,323.27 445.30,323.28 445.80,323.29 446.30,323.31 446.80,323.33 447.30,323.34 447.80,323.36 448.30,323.38 448.80,323.41 449.30,323.43 449.80,323.46 450.30,323.50 450.80,323.53 451.30,323.57 451.80,323.62 452.30,323.66 452.80,323.72 453.30,323.78 453.80,323.84 454.30,323.91 454.80,323.99 455.30,324.08 455.80,324.17 456.30,324.27 456.80,324.39 457.30,324.51 457.80,324.65 458.30,324.80 458.80,324.96 459.30,325.14 459.80,325.33 460.30,325.54 460.80,325.77 461.30,326.01 461.80,326.28 462.30,326.56 462.80,326.87 463.30,327.20 463.80,327.55 464.30,327.92 464.80,328.32 465.30,328.74 465.80,329.17 466.30,329.63 466.80,330.12 467.30,330.61 467.80,331.13 468.30,331.66 468.80,332.21 469.30,332.76 469.80,333.32 470.30,333.89 470.80,334.46 471.30,335.02 471.80,335.59 472.30,336.14 472.80,336.69 473.30,337.22 473.80,337.74 474.30,338.25 474.80,338.73 475.30,339.20 475.80,339.64 476.30,340.06 476.80,340.46 477.30,340.84 477.80,341.19 478.30,341.53 478.80,341.84 479.30,342.13 479.80,342.39 480.30,342.64 480.80,342.88 481.30,343.09 481.80,343.28 482.30,343.47 482.80,343.63 483.30,343.78 483.80,343.92 484.30,344.05 484.80,344.16 485.30,344.27 485.80,344.37 486.30,344.45 486.80,344.53 487.30,344.61 487.80,344.67 488.30,344.73 488.80,344.79 489.30,344.84 489.80,344.88 490.30,344.92 490.80,344.96 491.30,344.99 491.80,345.02 492.30,345.05 492.80,345.07 493.30,345.09 493.80,345.11 494.30,345.13 494.80,345.15 495.30,345.16 495.80,345.18 496.30,345.19 496.80,345.20 497.30,345.21 497.80,345.22 498.30,345.23 498.80,345.23 499.30,345.24 499.80,345.25 500.30,345.25 500.80,345.26 501.30,345.26 501.80,345.26 502.30,345.27 502.80,345.27 503.30,345.27 503.80,345.28 504.30,345.28 504.80,345.28 505.30,345.28 505.80,345.28 506.30,345.29 506.80,345.29 507.30,345.29 507.80,345.29 508.30,345.29 508.80,345.29 509.30,345.29 509.80,345.29 510.30,345.29 510.80,345.29 511.30,345.29 511.80,345.30 512.30,345.30 512.80,345.30 513.30,345.30 513.80,345.30 514.30,345.30 514.80,345.30 515.30,345.30 515.80,345.30 516.30,345.30 516.80,345.30 517.30,345.30 517.80,345.30 518.30,345.30 518.80,345.30 519.30,345.30 519.80,345.30 520.30,345.30 520.80,345.30 521.30,345.30 521.80,345.30 522.30,345.30 522.80,345.30 523.30,345.30 523.80,345.30 524.30,345.30 524.80,345.30 525.30,345.30 525.80,345.30 526.30,345.30 526.80,345.30 527.30,345.30 527.80,345.30 528.30,345.30 528.80,345.30 529.30,345.30 529.80,345.30 530.30,345.30 530.80,345.30 531.30,345.30 531.80,345.30 532.30,345.30 532.80,345.30 533.30,345.30 533.80,345.30 534.30,345.30 534.80,345.30 535.30,345.30 535.80,345.30 536.30,345.30 536.80,345.30 537.30,345.30 537.80,345.30 538.30,345.30 538.80,345.30 539.30,345.30 539.80,345.30 540.30,345.30 540.80,345.30 541.30,345.30 541.80,345.30 542.30,345.30 542.80,345.30 543.30,345.30 543.80,345.30 544.30,345.30 544.80,345.30 545.30,345.30 545.80,345.30 546.30,345.30 546.80,345.30 547.30,345.30 547.80,345.30 548.30,345.30 548.80,345.30 549.30,345.30 549.80,345.30 550.30,345.30 550.80,345.30" fill="none" stroke="#111" stroke-width="1.8"/>
<path d="M409.10,304.90 V316.70 M418.90,307.90 V309.70 M428.70,307.90 V309.70 M438.60,308.70 V310.50 M448.50,311.60 V313.40 M458.40,316.20 V321.80 M468.40,334.20 V346.60 M478.10,353.90 V355.70 M487.90,370.20 V372.00 M497.70,377.80 V379.60 M507.50,378.50 V380.30 M517.40,379.10 V380.90 M523.40,380.10 V381.90 M527.30,375.80 V385.00 M533.40,380.10 V381.90 M537.20,380.60 V382.40" stroke="#e31a1a" stroke-width="1.3" fill="none"/>
<path d="M409.10,322.50 V324.30 M418.90,318.90 V320.70 M428.70,318.90 V320.70 M438.60,318.90 V320.70 M448.50,317.80 V328.80 M458.40,323.50 V327.10 M468.40,331.80 V334.20 M478.10,334.80 V341.60 M487.90,338.30 V343.30 M497.70,339.90 V347.50 M507.50,341.50 V347.10 M517.40,342.00 V346.60 M523.40,341.20 V345.80 M527.30,344.40 V346.20 M533.40,341.00 V349.00 M537.20,345.00 V348.00" stroke="#111" stroke-width="1.3" fill="none"/>
<text x="592.6" y="316.3" font-size="11" text-anchor="start" fill="#000" font-weight="normal" >Position 1</text>
<rect x="569.3000000000001" y="327.40000000000003" width="7.8" height="2.8" fill="#e00000"/>
<rect x="569.3000000000001" y="341.6" width="7.8" height="2.8" fill="#000"/>
<text x="580.8000000000001" y="333.40000000000003" font-size="11">Mxi1 <tspan font-style="italic" dx="1.0">L</tspan> =<tspan dx="1.3"> 1.7%</tspan></text>
<text x="580.8000000000001" y="346.90000000000003" font-size="11">Steric <tspan font-style="italic" dx="1.5">L</tspan><tspan dx="-0.7"> =</tspan><tspan dx="0.8"> 61.3%</tspan></text>
<path d="M62.8,441.19999999999993 V549.3 H233.1" fill="none" stroke="#333" stroke-width="1.1"/>
<path d="M61.0,549.30 H62.8 M61.0,531.30 H62.8 M61.0,513.30 H62.8 M61.0,495.30 H62.8 M61.0,477.30 H62.8 M61.0,459.30 H62.8 M61.0,441.30 H62.8 M70.60,549.3 V551.0999999999999 M103.10,549.3 V551.0999999999999 M135.60,549.3 V551.0999999999999 M168.10,549.3 V551.0999999999999 M200.60,549.3 V551.0999999999999 M233.10,549.3 V551.0999999999999" stroke="#333" stroke-width="0.9"/>
<text x="58.5" y="553.6999999999999" font-size="11" text-anchor="end" fill="#000" font-weight="normal" >0</text>
<text x="58.5" y="517.6999999999999" font-size="11" text-anchor="end" fill="#000" font-weight="normal" >10,000</text>
<text x="58.5" y="481.69999999999993" font-size="11" text-anchor="end" fill="#000" font-weight="normal" >20,000</text>
<text x="58.5" y="445.69999999999993" font-size="11" text-anchor="end" fill="#000" font-weight="normal" >30,000</text>
<text x="60.40" y="564.30" font-size="11">10<tspan font-size="8" dy="-4.2">&#8722;2</tspan></text>
<text x="92.90" y="564.30" font-size="11">10<tspan font-size="8" dy="-4.2">&#8722;1</tspan></text>
<text x="125.40" y="564.30" font-size="11">10<tspan font-size="8" dy="-4.2">0</tspan></text>
<text x="157.90" y="564.30" font-size="11">10<tspan font-size="8" dy="-4.2">1</tspan></text>
<text x="190.40" y="564.30" font-size="11">10<tspan font-size="8" dy="-4.2">2</tspan></text>
<text x="222.90" y="564.30" font-size="11">10<tspan font-size="8" dy="-4.2">3</tspan></text>
<text transform="translate(14.70,495.60) rotate(-90)" font-size="11.25" text-anchor="middle">Fluorescence [a.u.]</text>
<text x="111.5" y="579.6999999999999" font-size="11.2" text-anchor="start" fill="#000" font-weight="normal" >Treatment [nM]</text>
<polyline points="62.80,454.26 63.30,454.26 63.80,454.26 64.30,454.26 64.80,454.26 65.30,454.26 65.80,454.26 66.30,454.26 66.80,454.26 67.30,454.26 67.80,454.26 68.30,454.26 68.80,454.26 69.30,454.26 69.80,454.26 70.30,454.26 70.80,454.26 71.30,454.26 71.80,454.26 72.30,454.26 72.80,454.26 73.30,454.26 73.80,454.26 74.30,454.26 74.80,454.26 75.30,454.26 75.80,454.26 76.30,454.26 76.80,454.26 77.30,454.26 77.80,454.26 78.30,454.27 78.80,454.27 79.30,454.27 79.80,454.27 80.30,454.27 80.80,454.27 81.30,454.27 81.80,454.27 82.30,454.27 82.80,454.27 83.30,454.27 83.80,454.27 84.30,454.27 84.80,454.27 85.30,454.27 85.80,454.28 86.30,454.28 86.80,454.28 87.30,454.28 87.80,454.28 88.30,454.28 88.80,454.28 89.30,454.28 89.80,454.29 90.30,454.29 90.80,454.29 91.30,454.29 91.80,454.30 92.30,454.30 92.80,454.30 93.30,454.30 93.80,454.31 94.30,454.31 94.80,454.31 95.30,454.32 95.80,454.32 96.30,454.33 96.80,454.33 97.30,454.34 97.80,454.34 98.30,454.35 98.80,454.36 99.30,454.36 99.80,454.37 100.30,454.38 100.80,454.39 101.30,454.40 101.80,454.41 102.30,454.42 102.80,454.43 103.30,454.44 103.80,454.45 104.30,454.47 104.80,454.48 105.30,454.50 105.80,454.52 106.30,454.54 106.80,454.56 107.30,454.58 107.80,454.60 108.30,454.63 108.80,454.65 109.30,454.68 109.80,454.71 110.30,454.75 110.80,454.78 111.30,454.82 111.80,454.86 112.30,454.90 112.80,454.95 113.30,455.00 113.80,455.05 114.30,455.11 114.80,455.17 115.30,455.24 115.80,455.31 116.30,455.39 116.80,455.47 117.30,455.56 117.80,455.65 118.30,455.75 118.80,455.86 119.30,455.97 119.80,456.09 120.30,456.23 120.80,456.37 121.30,456.52 121.80,456.68 122.30,456.85 122.80,457.03 123.30,457.23 123.80,457.44 124.30,457.66 124.80,457.90 125.30,458.15 125.80,458.43 126.30,458.71 126.80,459.02 127.30,459.35 127.80,459.70 128.30,460.07 128.80,460.46 129.30,460.88 129.80,461.33 130.30,461.80 130.80,462.30 131.30,462.82 131.80,463.38 132.30,463.97 132.80,464.59 133.30,465.25 133.80,465.94 134.30,466.67 134.80,467.43 135.30,468.23 135.80,469.07 136.30,469.95 136.80,470.87 137.30,471.82 137.80,472.82 138.30,473.85 138.80,474.92 139.30,476.03 139.80,477.18 140.30,478.37 140.80,479.59 141.30,480.84 141.80,482.12 142.30,483.43 142.80,484.77 143.30,486.13 143.80,487.52 144.30,488.92 144.80,490.34 145.30,491.76 145.80,493.20 146.30,494.64 146.80,496.08 147.30,497.52 147.80,498.95 148.30,500.37 148.80,501.78 149.30,503.17 149.80,504.54 150.30,505.89 150.80,507.21 151.30,508.51 151.80,509.78 152.30,511.01 152.80,512.21 153.30,513.37 153.80,514.50 154.30,515.59 154.80,516.64 155.30,517.65 155.80,518.62 156.30,519.55 156.80,520.45 157.30,521.30 157.80,522.12 158.30,522.90 158.80,523.64 159.30,524.35 159.80,525.02 160.30,525.65 160.80,526.26 161.30,526.83 161.80,527.37 162.30,527.88 162.80,528.36 163.30,528.82 163.80,529.25 164.30,529.65 164.80,530.03 165.30,530.39 165.80,530.72 166.30,531.04 166.80,531.34 167.30,531.62 167.80,531.88 168.30,532.12 168.80,532.35 169.30,532.57 169.80,532.77 170.30,532.96 170.80,533.13 171.30,533.30 171.80,533.45 172.30,533.60 172.80,533.73 173.30,533.86 173.80,533.98 174.30,534.09 174.80,534.19 175.30,534.29 175.80,534.38 176.30,534.46 176.80,534.54 177.30,534.61 177.80,534.68 178.30,534.74 178.80,534.80 179.30,534.86 179.80,534.91 180.30,534.96 180.80,535.00 181.30,535.04 181.80,535.08 182.30,535.12 182.80,535.15 183.30,535.19 183.80,535.22 184.30,535.24 184.80,535.27 185.30,535.29 185.80,535.31 186.30,535.34 186.80,535.36 187.30,535.37 187.80,535.39 188.30,535.41 188.80,535.42 189.30,535.43 189.80,535.45 190.30,535.46 190.80,535.47 191.30,535.48 191.80,535.49 192.30,535.50 192.80,535.51 193.30,535.51 193.80,535.52 194.30,535.53 194.80,535.53 195.30,535.54 195.80,535.55 196.30,535.55 196.80,535.56 197.30,535.56 197.80,535.56 198.30,535.57 198.80,535.57 199.30,535.57 199.80,535.58 200.30,535.58 200.80,535.58 201.30,535.59 201.80,535.59 202.30,535.59 202.80,535.59 203.30,535.59 203.80,535.60 204.30,535.60 204.80,535.60 205.30,535.60 205.80,535.60 206.30,535.60 206.80,535.60 207.30,535.61 207.80,535.61 208.30,535.61 208.80,535.61 209.30,535.61 209.80,535.61 210.30,535.61 210.80,535.61 211.30,535.61 211.80,535.61 212.30,535.61 212.80,535.61 213.30,535.61 213.80,535.61 214.30,535.61 214.80,535.61 215.30,535.62 215.80,535.62" fill="none" stroke="#e31a1a" stroke-width="1.8"/>
<polyline points="62.80,466.86 63.30,466.86 63.80,466.86 64.30,466.86 64.80,466.86 65.30,466.86 65.80,466.86 66.30,466.86 66.80,466.86 67.30,466.86 67.80,466.86 68.30,466.86 68.80,466.86 69.30,466.86 69.80,466.86 70.30,466.86 70.80,466.86 71.30,466.86 71.80,466.86 72.30,466.86 72.80,466.86 73.30,466.86 73.80,466.86 74.30,466.86 74.80,466.86 75.30,466.86 75.80,466.86 76.30,466.86 76.80,466.86 77.30,466.86 77.80,466.86 78.30,466.86 78.80,466.87 79.30,466.87 79.80,466.87 80.30,466.87 80.80,466.87 81.30,466.87 81.80,466.87 82.30,466.87 82.80,466.87 83.30,466.87 83.80,466.87 84.30,466.87 84.80,466.87 85.30,466.87 85.80,466.87 86.30,466.88 86.80,466.88 87.30,466.88 87.80,466.88 88.30,466.88 88.80,466.88 89.30,466.88 89.80,466.88 90.30,466.89 90.80,466.89 91.30,466.89 91.80,466.89 92.30,466.90 92.80,466.90 93.30,466.90 93.80,466.90 94.30,466.91 94.80,466.91 95.30,466.91 95.80,466.92 96.30,466.92 96.80,466.93 97.30,466.93 97.80,466.94 98.30,466.94 98.80,466.95 99.30,466.96 99.80,466.96 100.30,466.97 100.80,466.98 101.30,466.99 101.80,467.00 102.30,467.01 102.80,467.02 103.30,467.03 103.80,467.04 104.30,467.05 104.80,467.07 105.30,467.08 105.80,467.10 106.30,467.12 106.80,467.14 107.30,467.16 107.80,467.18 108.30,467.20 108.80,467.23 109.30,467.25 109.80,467.28 110.30,467.31 110.80,467.35 111.30,467.38 111.80,467.42 112.30,467.46 112.80,467.50 113.30,467.55 113.80,467.60 114.30,467.65 114.80,467.71 115.30,467.77 115.80,467.84 116.30,467.91 116.80,467.99 117.30,468.07 117.80,468.16 118.30,468.25 118.80,468.35 119.30,468.46 119.80,468.57 120.30,468.69 120.80,468.82 121.30,468.96 121.80,469.11 122.30,469.27 122.80,469.44 123.30,469.62 123.80,469.82 124.30,470.02 124.80,470.25 125.30,470.48 125.80,470.73 126.30,471.00 126.80,471.28 127.30,471.59 127.80,471.91 128.30,472.25 128.80,472.61 129.30,473.00 129.80,473.41 130.30,473.84 130.80,474.30 131.30,474.78 131.80,475.29 132.30,475.83 132.80,476.40 133.30,476.99 133.80,477.62 134.30,478.28 134.80,478.97 135.30,479.70 135.80,480.45 136.30,481.24 136.80,482.07 137.30,482.92 137.80,483.81 138.30,484.74 138.80,485.69 139.30,486.68 139.80,487.69 140.30,488.74 140.80,489.81 141.30,490.91 141.80,492.03 142.30,493.18 142.80,494.34 143.30,495.52 143.80,496.72 144.30,497.93 144.80,499.14 145.30,500.36 145.80,501.59 146.30,502.81 146.80,504.03 147.30,505.24 147.80,506.45 148.30,507.64 148.80,508.82 149.30,509.97 149.80,511.11 150.30,512.23 150.80,513.32 151.30,514.39 151.80,515.43 152.30,516.43 152.80,517.41 153.30,518.36 153.80,519.27 154.30,520.15 154.80,521.00 155.30,521.82 155.80,522.60 156.30,523.34 156.80,524.06 157.30,524.74 157.80,525.39 158.30,526.01 158.80,526.60 159.30,527.16 159.80,527.69 160.30,528.20 160.80,528.67 161.30,529.12 161.80,529.55 162.30,529.95 162.80,530.33 163.30,530.68 163.80,531.02 164.30,531.34 164.80,531.63 165.30,531.91 165.80,532.18 166.30,532.42 166.80,532.66 167.30,532.87 167.80,533.08 168.30,533.27 168.80,533.45 169.30,533.61 169.80,533.77 170.30,533.92 170.80,534.05 171.30,534.18 171.80,534.30 172.30,534.41 172.80,534.52 173.30,534.62 173.80,534.71 174.30,534.79 174.80,534.87 175.30,534.95 175.80,535.02 176.30,535.08 176.80,535.14 177.30,535.20 177.80,535.25 178.30,535.30 178.80,535.35 179.30,535.39 179.80,535.43 180.30,535.47 180.80,535.50 181.30,535.54 181.80,535.57 182.30,535.59 182.80,535.62 183.30,535.64 183.80,535.67 184.30,535.69 184.80,535.71 185.30,535.73 185.80,535.74 186.30,535.76 186.80,535.78 187.30,535.79 187.80,535.80 188.30,535.81 188.80,535.83 189.30,535.84 189.80,535.85 190.30,535.86 190.80,535.86 191.30,535.87 191.80,535.88 192.30,535.89 192.80,535.89 193.30,535.90 193.80,535.90 194.30,535.91 194.80,535.91 195.30,535.92 195.80,535.92 196.30,535.93 196.80,535.93 197.30,535.93 197.80,535.94 198.30,535.94 198.80,535.94 199.30,535.95 199.80,535.95 200.30,535.95 200.80,535.95 201.30,535.95 201.80,535.96 202.30,535.96 202.80,535.96 203.30,535.96 203.80,535.96 204.30,535.96 204.80,535.96 205.30,535.97 205.80,535.97 206.30,535.97 206.80,535.97 207.30,535.97 207.80,535.97 208.30,535.97 208.80,535.97 209.30,535.97 209.80,535.97 210.30,535.97 210.80,535.97 211.30,535.97 211.80,535.97 212.30,535.97 212.80,535.97 213.30,535.98 213.80,535.98 214.30,535.98 214.80,535.98 215.30,535.98 215.80,535.98" fill="none" stroke="#111" stroke-width="1.8"/>
<path d="M73.90,450.70 V453.70 M83.60,447.50 V451.90 M93.40,449.00 V450.80 M103.50,451.40 V453.80 M113.30,453.10 V454.90 M123.00,456.00 V461.40 M132.90,468.10 V472.10 M152.80,503.40 V513.40 M182.30,536.10 V542.50 M187.60,536.00 V540.00 M191.40,536.50 V539.50 M197.50,537.00 V540.00 M201.90,537.00 V541.00" stroke="#e31a1a" stroke-width="1.3" fill="none"/>
<path d="M73.90,466.30 V470.50 M83.60,465.50 V467.30 M93.40,465.40 V467.20 M103.50,464.30 V467.30 M113.30,463.80 V467.80 M123.00,468.10 V473.50 M172.70,533.50 V535.30 M187.60,536.00 V539.00 M197.50,536.30 V538.70" stroke="#111" stroke-width="1.3" fill="none"/>
<path d="M132.90,476.50 V490.50" stroke="#777" stroke-width="1.3" fill="none"/>
<text x="256.6" y="477.3" font-size="11" text-anchor="start" fill="#000" font-weight="normal" >Position 2</text>
<rect x="233.3" y="488.40000000000003" width="7.8" height="2.8" fill="#e00000"/>
<rect x="233.3" y="502.6" width="7.8" height="2.8" fill="#000"/>
<text x="244.8" y="494.40000000000003" font-size="11">Mxi1 <tspan font-style="italic" dx="1.0">L</tspan> =<tspan dx="1.3"> 0.0%</tspan></text>
<text x="244.8" y="507.90000000000003" font-size="11">Steric <tspan font-style="italic" dx="1.5">L</tspan><tspan dx="-0.7"> =</tspan><tspan dx="0.8"> 0.0%</tspan></text>
<path d="M400.6,441.19999999999993 V549.3 H570.0" fill="none" stroke="#333" stroke-width="1.1"/>
<path d="M398.8,549.30 H400.6 M398.8,531.30 H400.6 M398.8,513.30 H400.6 M398.8,495.30 H400.6 M398.8,477.30 H400.6 M398.8,459.30 H400.6 M398.8,441.30 H400.6 M407.50,549.3 V551.0999999999999 M440.00,549.3 V551.0999999999999 M472.50,549.3 V551.0999999999999 M505.00,549.3 V551.0999999999999 M537.50,549.3 V551.0999999999999 M570.00,549.3 V551.0999999999999" stroke="#333" stroke-width="0.9"/>
<text x="394.0" y="553.6999999999999" font-size="11" text-anchor="end" fill="#000" font-weight="normal" >0</text>
<text x="394.0" y="517.6999999999999" font-size="11" text-anchor="end" fill="#000" font-weight="normal" >10,000</text>
<text x="394.0" y="481.69999999999993" font-size="11" text-anchor="end" fill="#000" font-weight="normal" >20,000</text>
<text x="394.0" y="445.69999999999993" font-size="11" text-anchor="end" fill="#000" font-weight="normal" >30,000</text>
<text x="395.40" y="564.30" font-size="11">10<tspan font-size="8" dy="-4.2">&#8722;2</tspan></text>
<text x="427.90" y="564.30" font-size="11">10<tspan font-size="8" dy="-4.2">&#8722;1</tspan></text>
<text x="460.40" y="564.30" font-size="11">10<tspan font-size="8" dy="-4.2">0</tspan></text>
<text x="492.90" y="564.30" font-size="11">10<tspan font-size="8" dy="-4.2">1</tspan></text>
<text x="525.40" y="564.30" font-size="11">10<tspan font-size="8" dy="-4.2">2</tspan></text>
<text x="557.90" y="564.30" font-size="11">10<tspan font-size="8" dy="-4.2">3</tspan></text>
<text transform="translate(350.20,495.60) rotate(-90)" font-size="11.25" text-anchor="middle">Fluorescence [a.u.]</text>
<text x="446.1" y="579.6999999999999" font-size="11.2" text-anchor="start" fill="#000" font-weight="normal" >Treatment [nM]</text>
<polyline points="400.60,458.22 401.10,458.22 401.60,458.22 402.10,458.22 402.60,458.22 403.10,458.22 403.60,458.22 404.10,458.22 404.60,458.22 405.10,458.22 405.60,458.22 406.10,458.22 406.60,458.22 407.10,458.22 407.60,458.22 408.10,458.22 408.60,458.22 409.10,458.22 409.60,458.22 410.10,458.22 410.60,458.22 411.10,458.22 411.60,458.22 412.10,458.22 412.60,458.22 413.10,458.22 413.60,458.22 414.10,458.22 414.60,458.22 415.10,458.22 415.60,458.22 416.10,458.22 416.60,458.22 417.10,458.22 417.60,458.22 418.10,458.22 418.60,458.22 419.10,458.22 419.60,458.22 420.10,458.22 420.60,458.23 421.10,458.23 421.60,458.23 422.10,458.23 422.60,458.23 423.10,458.23 423.60,458.23 424.10,458.23 424.60,458.23 425.10,458.23 425.60,458.23 426.10,458.23 426.60,458.23 427.10,458.23 427.60,458.24 428.10,458.24 428.60,458.24 429.10,458.24 429.60,458.24 430.10,458.24 430.60,458.24 431.10,458.25 431.60,458.25 432.10,458.25 432.60,458.25 433.10,458.26 433.60,458.26 434.10,458.26 434.60,458.27 435.10,458.27 435.60,458.27 436.10,458.28 436.60,458.28 437.10,458.29 437.60,458.29 438.10,458.30 438.60,458.30 439.10,458.31 439.60,458.32 440.10,458.33 440.60,458.33 441.10,458.34 441.60,458.35 442.10,458.37 442.60,458.38 443.10,458.39 443.60,458.40 444.10,458.42 444.60,458.43 445.10,458.45 445.60,458.47 446.10,458.49 446.60,458.51 447.10,458.54 447.60,458.56 448.10,458.59 448.60,458.62 449.10,458.65 449.60,458.69 450.10,458.72 450.60,458.76 451.10,458.81 451.60,458.85 452.10,458.90 452.60,458.96 453.10,459.02 453.60,459.08 454.10,459.15 454.60,459.23 455.10,459.31 455.60,459.39 456.10,459.49 456.60,459.59 457.10,459.70 457.60,459.81 458.10,459.94 458.60,460.08 459.10,460.22 459.60,460.38 460.10,460.55 460.60,460.73 461.10,460.93 461.60,461.14 462.10,461.37 462.60,461.61 463.10,461.87 463.60,462.15 464.10,462.46 464.60,462.78 465.10,463.12 465.60,463.49 466.10,463.89 466.60,464.31 467.10,464.76 467.60,465.25 468.10,465.76 468.60,466.31 469.10,466.89 469.60,467.50 470.10,468.16 470.60,468.85 471.10,469.59 471.60,470.36 472.10,471.18 472.60,472.04 473.10,472.94 473.60,473.89 474.10,474.88 474.60,475.92 475.10,477.00 475.60,478.13 476.10,479.29 476.60,480.50 477.10,481.75 477.60,483.04 478.10,484.36 478.60,485.72 479.10,487.10 479.60,488.51 480.10,489.95 480.60,491.40 481.10,492.87 481.60,494.35 482.10,495.83 482.60,497.32 483.10,498.81 483.60,500.28 484.10,501.75 484.60,503.20 485.10,504.62 485.60,506.03 486.10,507.41 486.60,508.75 487.10,510.07 487.60,511.34 488.10,512.58 488.60,513.78 489.10,514.94 489.60,516.05 490.10,517.12 490.60,518.15 491.10,519.13 491.60,520.06 492.10,520.96 492.60,521.80 493.10,522.61 493.60,523.37 494.10,524.10 494.60,524.78 495.10,525.42 495.60,526.03 496.10,526.60 496.60,527.14 497.10,527.64 497.60,528.12 498.10,528.56 498.60,528.98 499.10,529.37 499.60,529.73 500.10,530.07 500.60,530.39 501.10,530.68 501.60,530.96 502.10,531.21 502.60,531.45 503.10,531.68 503.60,531.88 504.10,532.08 504.60,532.26 505.10,532.42 505.60,532.58 506.10,532.72 506.60,532.85 507.10,532.98 507.60,533.09 508.10,533.20 508.60,533.30 509.10,533.39 509.60,533.47 510.10,533.55 510.60,533.63 511.10,533.69 511.60,533.76 512.10,533.82 512.60,533.87 513.10,533.92 513.60,533.97 514.10,534.01 514.60,534.05 515.10,534.08 515.60,534.12 516.10,534.15 516.60,534.18 517.10,534.21 517.60,534.23 518.10,534.25 518.60,534.28 519.10,534.30 519.60,534.31 520.10,534.33 520.60,534.35 521.10,534.36 521.60,534.37 522.10,534.39 522.60,534.40 523.10,534.41 523.60,534.42 524.10,534.43 524.60,534.44 525.10,534.44 525.60,534.45 526.10,534.46 526.60,534.46 527.10,534.47 527.60,534.47 528.10,534.48 528.60,534.48 529.10,534.49 529.60,534.49 530.10,534.50 530.60,534.50 531.10,534.50 531.60,534.50 532.10,534.51 532.60,534.51 533.10,534.51 533.60,534.51 534.10,534.52 534.60,534.52 535.10,534.52 535.60,534.52 536.10,534.52 536.60,534.52 537.10,534.53 537.60,534.53 538.10,534.53 538.60,534.53 539.10,534.53 539.60,534.53 540.10,534.53 540.60,534.53 541.10,534.53 541.60,534.53 542.10,534.53 542.60,534.53 543.10,534.53 543.60,534.53 544.10,534.54 544.60,534.54 545.10,534.54 545.60,534.54 546.10,534.54 546.60,534.54 547.10,534.54 547.60,534.54 548.10,534.54 548.60,534.54 549.10,534.54 549.60,534.54 550.10,534.54 550.60,534.54 551.10,534.54 551.60,534.54 552.10,534.54 552.60,534.54" fill="none" stroke="#e31a1a" stroke-width="1.8"/>
<polyline points="400.60,462.90 401.10,462.90 401.60,462.90 402.10,462.90 402.60,462.90 403.10,462.90 403.60,462.90 404.10,462.90 404.60,462.90 405.10,462.90 405.60,462.90 406.10,462.90 406.60,462.90 407.10,462.90 407.60,462.90 408.10,462.90 408.60,462.90 409.10,462.90 409.60,462.90 410.10,462.90 410.60,462.90 411.10,462.90 411.60,462.90 412.10,462.90 412.60,462.90 413.10,462.90 413.60,462.90 414.10,462.90 414.60,462.90 415.10,462.90 415.60,462.90 416.10,462.90 416.60,462.90 417.10,462.90 417.60,462.90 418.10,462.90 418.60,462.90 419.10,462.90 419.60,462.90 420.10,462.90 420.60,462.90 421.10,462.90 421.60,462.90 422.10,462.90 422.60,462.90 423.10,462.90 423.60,462.90 424.10,462.90 424.60,462.90 425.10,462.91 425.60,462.91 426.10,462.91 426.60,462.91 427.10,462.91 427.60,462.91 428.10,462.91 428.60,462.91 429.10,462.91 429.60,462.91 430.10,462.91 430.60,462.91 431.10,462.91 431.60,462.91 432.10,462.92 432.60,462.92 433.10,462.92 433.60,462.92 434.10,462.92 434.60,462.92 435.10,462.92 435.60,462.93 436.10,462.93 436.60,462.93 437.10,462.93 437.60,462.94 438.10,462.94 438.60,462.94 439.10,462.95 439.60,462.95 440.10,462.95 440.60,462.96 441.10,462.96 441.60,462.97 442.10,462.97 442.60,462.98 443.10,462.98 443.60,462.99 444.10,463.00 444.60,463.01 445.10,463.01 445.60,463.02 446.10,463.03 446.60,463.05 447.10,463.06 447.60,463.07 448.10,463.08 448.60,463.10 449.10,463.11 449.60,463.13 450.10,463.15 450.60,463.17 451.10,463.19 451.60,463.22 452.10,463.24 452.60,463.27 453.10,463.30 453.60,463.33 454.10,463.36 454.60,463.40 455.10,463.44 455.60,463.49 456.10,463.53 456.60,463.58 457.10,463.64 457.60,463.70 458.10,463.76 458.60,463.83 459.10,463.90 459.60,463.98 460.10,464.07 460.60,464.16 461.10,464.26 461.60,464.37 462.10,464.48 462.60,464.61 463.10,464.74 463.60,464.88 464.10,465.04 464.60,465.20 465.10,465.38 465.60,465.57 466.10,465.78 466.60,466.00 467.10,466.23 467.60,466.49 468.10,466.76 468.60,467.04 469.10,467.35 469.60,467.68 470.10,468.03 470.60,468.40 471.10,468.80 471.60,469.22 472.10,469.67 472.60,470.15 473.10,470.65 473.60,471.18 474.10,471.74 474.60,472.34 475.10,472.96 475.60,473.61 476.10,474.30 476.60,475.01 477.10,475.76 477.60,476.54 478.10,477.35 478.60,478.19 479.10,479.06 479.60,479.95 480.10,480.88 480.60,481.82 481.10,482.79 481.60,483.78 482.10,484.79 482.60,485.81 483.10,486.84 483.60,487.88 484.10,488.93 484.60,489.98 485.10,491.04 485.60,492.08 486.10,493.13 486.60,494.16 487.10,495.18 487.60,496.18 488.10,497.17 488.60,498.13 489.10,499.07 489.60,499.99 490.10,500.88 490.60,501.75 491.10,502.58 491.60,503.39 492.10,504.16 492.60,504.90 493.10,505.62 493.60,506.30 494.10,506.94 494.60,507.56 495.10,508.15 495.60,508.70 496.10,509.23 496.60,509.73 497.10,510.20 497.60,510.65 498.10,511.06 498.60,511.46 499.10,511.83 499.60,512.17 500.10,512.50 500.60,512.80 501.10,513.09 501.60,513.36 502.10,513.61 502.60,513.84 503.10,514.06 503.60,514.26 504.10,514.45 504.60,514.62 505.10,514.79 505.60,514.94 506.10,515.08 506.60,515.21 507.10,515.34 507.60,515.45 508.10,515.56 508.60,515.66 509.10,515.75 509.60,515.83 510.10,515.91 510.60,515.98 511.10,516.05 511.60,516.11 512.10,516.17 512.60,516.23 513.10,516.28 513.60,516.32 514.10,516.36 514.60,516.40 515.10,516.44 515.60,516.48 516.10,516.51 516.60,516.54 517.10,516.56 517.60,516.59 518.10,516.61 518.60,516.63 519.10,516.65 519.60,516.67 520.10,516.69 520.60,516.70 521.10,516.72 521.60,516.73 522.10,516.75 522.60,516.76 523.10,516.77 523.60,516.78 524.10,516.79 524.60,516.80 525.10,516.80 525.60,516.81 526.10,516.82 526.60,516.82 527.10,516.83 527.60,516.83 528.10,516.84 528.60,516.84 529.10,516.85 529.60,516.85 530.10,516.86 530.60,516.86 531.10,516.86 531.60,516.86 532.10,516.87 532.60,516.87 533.10,516.87 533.60,516.87 534.10,516.88 534.60,516.88 535.10,516.88 535.60,516.88 536.10,516.88 536.60,516.88 537.10,516.89 537.60,516.89 538.10,516.89 538.60,516.89 539.10,516.89 539.60,516.89 540.10,516.89 540.60,516.89 541.10,516.89 541.60,516.89 542.10,516.89 542.60,516.89 543.10,516.89 543.60,516.89 544.10,516.89 544.60,516.90 545.10,516.90 545.60,516.90 546.10,516.90 546.60,516.90 547.10,516.90 547.60,516.90 548.10,516.90 548.60,516.90 549.10,516.90 549.60,516.90 550.10,516.90 550.60,516.90 551.10,516.90 551.60,516.90 552.10,516.90 552.60,516.90" fill="none" stroke="#111" stroke-width="1.8"/>
<path d="M401.20,451.40 V459.60 M410.70,451.90 V460.50 M420.40,453.50 V459.10 M430.60,448.50 V457.90 M440.30,454.00 V460.00 M450.20,456.50 V458.50 M469.70,469.30 V473.30 M489.40,504.00 V506.00 M509.00,532.00 V537.00 M518.90,537.30 V539.10 M524.30,538.10 V539.90 M529.40,538.10 V539.90 M534.80,538.60 V540.40 M538.50,538.60 V540.40" stroke="#e31a1a" stroke-width="1.3" fill="none"/>
<path d="M401.20,462.00 V464.00 M410.70,462.90 V467.90 M420.40,458.20 V462.20 M430.60,455.50 V462.10 M440.30,462.70 V464.70 M450.20,461.00 V463.00 M459.80,463.30 V468.70 M479.60,471.90 V480.50 M489.40,496.90 V500.90 M499.30,505.50 V509.50 M518.90,517.00 V519.00 M524.30,517.30 V519.30 M529.40,517.30 V519.30 M534.80,517.30 V519.30 M538.50,517.30 V519.30" stroke="#111" stroke-width="1.3" fill="none"/>
<text x="592.6" y="477.3" font-size="11" text-anchor="start" fill="#000" font-weight="normal" >Position 3</text>
<rect x="569.3000000000001" y="488.40000000000003" width="7.8" height="2.8" fill="#e00000"/>
<rect x="569.3000000000001" y="502.6" width="7.8" height="2.8" fill="#000"/>
<text x="580.8000000000001" y="494.40000000000003" font-size="11">Mxi1 <tspan font-style="italic" dx="1.0">L</tspan> =<tspan dx="1.3"> 0.0%</tspan></text>
<text x="580.8000000000001" y="507.90000000000003" font-size="11">Steric <tspan font-style="italic" dx="1.5">L</tspan><tspan dx="-0.7"> =</tspan><tspan dx="0.8"> 25.0%</tspan></text>
</svg>
</body></html>
